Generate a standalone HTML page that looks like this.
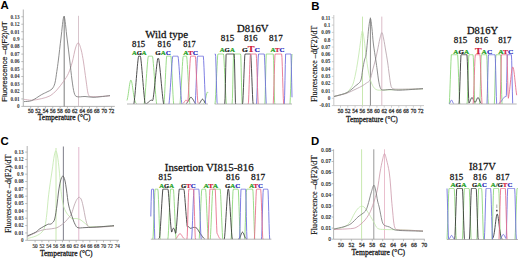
<!DOCTYPE html>
<html><head><meta charset="utf-8"><style>
html,body{margin:0;padding:0;background:#fff;width:520px;height:258px;overflow:hidden}
svg{display:block}
</style></head><body>
<svg width="520" height="258" viewBox="0 0 520 258">
<rect width="520" height="258" fill="#fff"/>
<g>
<text x="0.60" y="8.90" font-family='"Liberation Sans", sans-serif' font-size="11.40" font-weight="bold" fill="#000" text-anchor="start" >A</text>
<text x="311.20" y="9.60" font-family='"Liberation Sans", sans-serif' font-size="11.40" font-weight="bold" fill="#000" text-anchor="start" >B</text>
<text x="0.60" y="145.00" font-family='"Liberation Sans", sans-serif' font-size="11.40" font-weight="bold" fill="#000" text-anchor="start" >C</text>
<text x="311.00" y="145.00" font-family='"Liberation Sans", sans-serif' font-size="11.40" font-weight="bold" fill="#000" text-anchor="start" >D</text>
<line x1="23.30" y1="9.50" x2="23.30" y2="106.40" stroke="#a0a0a0" stroke-width="0.8"/>
<line x1="23.30" y1="106.40" x2="114.80" y2="106.40" stroke="#a0a0a0" stroke-width="0.8"/>
<line x1="21.30" y1="106.40" x2="23.30" y2="106.40" stroke="#a0a0a0" stroke-width="0.7"/>
<line x1="21.30" y1="98.93" x2="23.30" y2="98.93" stroke="#a0a0a0" stroke-width="0.7"/>
<line x1="21.30" y1="91.46" x2="23.30" y2="91.46" stroke="#a0a0a0" stroke-width="0.7"/>
<line x1="21.30" y1="83.99" x2="23.30" y2="83.99" stroke="#a0a0a0" stroke-width="0.7"/>
<line x1="21.30" y1="76.52" x2="23.30" y2="76.52" stroke="#a0a0a0" stroke-width="0.7"/>
<line x1="21.30" y1="69.05" x2="23.30" y2="69.05" stroke="#a0a0a0" stroke-width="0.7"/>
<line x1="21.30" y1="61.58" x2="23.30" y2="61.58" stroke="#a0a0a0" stroke-width="0.7"/>
<line x1="21.30" y1="54.11" x2="23.30" y2="54.11" stroke="#a0a0a0" stroke-width="0.7"/>
<line x1="21.30" y1="46.64" x2="23.30" y2="46.64" stroke="#a0a0a0" stroke-width="0.7"/>
<line x1="21.30" y1="39.17" x2="23.30" y2="39.17" stroke="#a0a0a0" stroke-width="0.7"/>
<line x1="21.30" y1="31.70" x2="23.30" y2="31.70" stroke="#a0a0a0" stroke-width="0.7"/>
<line x1="21.30" y1="24.23" x2="23.30" y2="24.23" stroke="#a0a0a0" stroke-width="0.7"/>
<line x1="21.30" y1="16.76" x2="23.30" y2="16.76" stroke="#a0a0a0" stroke-width="0.7"/>
<line x1="30.70" y1="106.40" x2="30.70" y2="108.40" stroke="#a0a0a0" stroke-width="0.7"/>
<line x1="38.05" y1="106.40" x2="38.05" y2="108.40" stroke="#a0a0a0" stroke-width="0.7"/>
<line x1="45.40" y1="106.40" x2="45.40" y2="108.40" stroke="#a0a0a0" stroke-width="0.7"/>
<line x1="52.75" y1="106.40" x2="52.75" y2="108.40" stroke="#a0a0a0" stroke-width="0.7"/>
<line x1="60.10" y1="106.40" x2="60.10" y2="108.40" stroke="#a0a0a0" stroke-width="0.7"/>
<line x1="67.45" y1="106.40" x2="67.45" y2="108.40" stroke="#a0a0a0" stroke-width="0.7"/>
<line x1="74.80" y1="106.40" x2="74.80" y2="108.40" stroke="#a0a0a0" stroke-width="0.7"/>
<line x1="82.15" y1="106.40" x2="82.15" y2="108.40" stroke="#a0a0a0" stroke-width="0.7"/>
<line x1="89.50" y1="106.40" x2="89.50" y2="108.40" stroke="#a0a0a0" stroke-width="0.7"/>
<line x1="96.85" y1="106.40" x2="96.85" y2="108.40" stroke="#a0a0a0" stroke-width="0.7"/>
<line x1="104.20" y1="106.40" x2="104.20" y2="108.40" stroke="#a0a0a0" stroke-width="0.7"/>
<line x1="111.55" y1="106.40" x2="111.55" y2="108.40" stroke="#a0a0a0" stroke-width="0.7"/>
<text x="19.60" y="108.20" font-family='"Liberation Serif", serif' font-size="5.20" font-weight="bold" fill="#333" text-anchor="end" >0</text>
<text x="19.60" y="100.73" font-family='"Liberation Serif", serif' font-size="5.20" font-weight="bold" fill="#333" text-anchor="end" >0.01</text>
<text x="19.60" y="93.26" font-family='"Liberation Serif", serif' font-size="5.20" font-weight="bold" fill="#333" text-anchor="end" >0.02</text>
<text x="19.60" y="85.79" font-family='"Liberation Serif", serif' font-size="5.20" font-weight="bold" fill="#333" text-anchor="end" >0.03</text>
<text x="19.60" y="78.32" font-family='"Liberation Serif", serif' font-size="5.20" font-weight="bold" fill="#333" text-anchor="end" >0.04</text>
<text x="19.60" y="70.85" font-family='"Liberation Serif", serif' font-size="5.20" font-weight="bold" fill="#333" text-anchor="end" >0.05</text>
<text x="19.60" y="63.38" font-family='"Liberation Serif", serif' font-size="5.20" font-weight="bold" fill="#333" text-anchor="end" >0.06</text>
<text x="19.60" y="55.91" font-family='"Liberation Serif", serif' font-size="5.20" font-weight="bold" fill="#333" text-anchor="end" >0.07</text>
<text x="19.60" y="48.44" font-family='"Liberation Serif", serif' font-size="5.20" font-weight="bold" fill="#333" text-anchor="end" >0.08</text>
<text x="19.60" y="40.97" font-family='"Liberation Serif", serif' font-size="5.20" font-weight="bold" fill="#333" text-anchor="end" >0.9</text>
<text x="19.60" y="33.50" font-family='"Liberation Serif", serif' font-size="5.20" font-weight="bold" fill="#333" text-anchor="end" >0.01</text>
<text x="19.60" y="26.03" font-family='"Liberation Serif", serif' font-size="5.20" font-weight="bold" fill="#333" text-anchor="end" >0.12</text>
<text x="19.60" y="18.56" font-family='"Liberation Serif", serif' font-size="5.20" font-weight="bold" fill="#333" text-anchor="end" >0.13</text>
<text x="30.70" y="113.20" font-family='"Liberation Serif", serif' font-size="5.50" font-weight="normal" fill="#333" text-anchor="middle"  stroke="#333" stroke-width="0.26">50</text>
<text x="38.05" y="113.20" font-family='"Liberation Serif", serif' font-size="5.50" font-weight="normal" fill="#333" text-anchor="middle"  stroke="#333" stroke-width="0.26">52</text>
<text x="45.40" y="113.20" font-family='"Liberation Serif", serif' font-size="5.50" font-weight="normal" fill="#333" text-anchor="middle"  stroke="#333" stroke-width="0.26">54</text>
<text x="52.75" y="113.20" font-family='"Liberation Serif", serif' font-size="5.50" font-weight="normal" fill="#333" text-anchor="middle"  stroke="#333" stroke-width="0.26">56</text>
<text x="60.10" y="113.20" font-family='"Liberation Serif", serif' font-size="5.50" font-weight="normal" fill="#333" text-anchor="middle"  stroke="#333" stroke-width="0.26">58</text>
<text x="67.45" y="113.20" font-family='"Liberation Serif", serif' font-size="5.50" font-weight="normal" fill="#333" text-anchor="middle"  stroke="#333" stroke-width="0.26">60</text>
<text x="74.80" y="113.20" font-family='"Liberation Serif", serif' font-size="5.50" font-weight="normal" fill="#333" text-anchor="middle"  stroke="#333" stroke-width="0.26">62</text>
<text x="82.15" y="113.20" font-family='"Liberation Serif", serif' font-size="5.50" font-weight="normal" fill="#333" text-anchor="middle"  stroke="#333" stroke-width="0.26">64</text>
<text x="89.50" y="113.20" font-family='"Liberation Serif", serif' font-size="5.50" font-weight="normal" fill="#333" text-anchor="middle"  stroke="#333" stroke-width="0.26">66</text>
<text x="96.85" y="113.20" font-family='"Liberation Serif", serif' font-size="5.50" font-weight="normal" fill="#333" text-anchor="middle"  stroke="#333" stroke-width="0.26">68</text>
<text x="104.20" y="113.20" font-family='"Liberation Serif", serif' font-size="5.50" font-weight="normal" fill="#333" text-anchor="middle"  stroke="#333" stroke-width="0.26">70</text>
<text x="111.55" y="113.20" font-family='"Liberation Serif", serif' font-size="5.50" font-weight="normal" fill="#333" text-anchor="middle"  stroke="#333" stroke-width="0.26">72</text>
<text x="37.80" y="120.20" font-family='"Liberation Serif", serif' font-size="8.30" font-weight="normal" fill="#111" text-anchor="start" textLength="52.80" lengthAdjust="spacingAndGlyphs" stroke="#111" stroke-width="0.26">Temperature (&#176;C)</text>
<text x="6.80" y="61.55" font-family='"Liberation Sans", sans-serif' font-size="7.00" font-weight="normal" fill="#111" text-anchor="middle" transform="rotate(-90 6.80 61.55)" textLength="80.30" lengthAdjust="spacingAndGlyphs" stroke="#111" stroke-width="0.16">Fluorescence &#8211;d(F2)/dT</text>
<line x1="64.20" y1="16.00" x2="64.20" y2="106.40" stroke="#888" stroke-width="1.10" stroke-opacity="1.00"/>
<line x1="78.50" y1="15.80" x2="78.50" y2="106.40" stroke="#d8c4cc" stroke-width="1.00" stroke-opacity="1.00"/>
<path d="M24.00,99.30 C25.28,99.45 28.82,100.30 31.70,100.20 C34.58,100.10 38.23,99.43 41.30,98.70 C44.37,97.97 47.52,97.25 50.10,95.80 C52.68,94.35 54.55,92.42 56.80,90.00 C59.05,87.58 61.67,84.05 63.60,81.30 C65.53,78.55 66.95,76.72 68.40,73.50 C69.85,70.28 71.12,66.25 72.30,62.00 C73.48,57.75 74.48,51.18 75.50,48.00 C76.52,44.82 77.45,42.57 78.40,42.90 C79.35,43.23 80.35,46.82 81.20,50.00 C82.05,53.18 82.70,57.00 83.50,62.00 C84.30,67.00 85.18,74.57 86.00,80.00 C86.82,85.43 87.37,91.83 88.40,94.60 C89.43,97.37 90.27,96.28 92.20,96.60 C94.13,96.92 97.03,96.63 100.00,96.50 C102.97,96.37 108.33,95.92 110.00,95.80" fill="none" stroke="#c8a0ac" stroke-width="0.80" stroke-opacity="1.00" stroke-linejoin="round"/>
<path d="M24.00,101.60 C25.28,101.43 28.82,101.73 31.70,100.60 C34.58,99.47 38.73,96.25 41.30,94.80 C43.87,93.35 45.32,92.87 47.10,91.90 C48.88,90.93 50.70,90.45 52.00,89.00 C53.30,87.55 54.10,86.10 54.90,83.20 C55.70,80.30 56.22,75.47 56.80,71.60 C57.38,67.73 57.70,65.60 58.40,60.00 C59.10,54.40 60.07,45.25 61.00,38.00 C61.93,30.75 63.00,16.50 64.00,16.50 C65.00,16.50 66.05,30.75 67.00,38.00 C67.95,45.25 68.87,53.00 69.70,60.00 C70.53,67.00 71.25,74.52 72.00,80.00 C72.75,85.48 73.35,90.12 74.20,92.90 C75.05,95.68 75.30,96.10 77.10,96.70 C78.90,97.30 82.35,96.40 85.00,96.50 C87.65,96.60 90.50,97.25 93.00,97.30 C95.50,97.35 97.17,97.08 100.00,96.80 C102.83,96.52 108.33,95.80 110.00,95.60" fill="none" stroke="#7a7a7a" stroke-width="0.85" stroke-opacity="1.00" stroke-linejoin="round"/>
<line x1="333.80" y1="15.00" x2="333.80" y2="105.60" stroke="#bbb" stroke-width="0.8"/>
<line x1="333.80" y1="105.60" x2="424.00" y2="105.60" stroke="#bbb" stroke-width="0.8"/>
<line x1="331.80" y1="105.60" x2="333.80" y2="105.60" stroke="#bbb" stroke-width="0.7"/>
<line x1="331.80" y1="98.28" x2="333.80" y2="98.28" stroke="#bbb" stroke-width="0.7"/>
<line x1="331.80" y1="90.96" x2="333.80" y2="90.96" stroke="#bbb" stroke-width="0.7"/>
<line x1="331.80" y1="83.64" x2="333.80" y2="83.64" stroke="#bbb" stroke-width="0.7"/>
<line x1="331.80" y1="76.32" x2="333.80" y2="76.32" stroke="#bbb" stroke-width="0.7"/>
<line x1="331.80" y1="69.00" x2="333.80" y2="69.00" stroke="#bbb" stroke-width="0.7"/>
<line x1="331.80" y1="61.68" x2="333.80" y2="61.68" stroke="#bbb" stroke-width="0.7"/>
<line x1="331.80" y1="54.36" x2="333.80" y2="54.36" stroke="#bbb" stroke-width="0.7"/>
<line x1="331.80" y1="47.04" x2="333.80" y2="47.04" stroke="#bbb" stroke-width="0.7"/>
<line x1="331.80" y1="39.72" x2="333.80" y2="39.72" stroke="#bbb" stroke-width="0.7"/>
<line x1="331.80" y1="32.40" x2="333.80" y2="32.40" stroke="#bbb" stroke-width="0.7"/>
<line x1="331.80" y1="25.08" x2="333.80" y2="25.08" stroke="#bbb" stroke-width="0.7"/>
<line x1="331.80" y1="17.76" x2="333.80" y2="17.76" stroke="#bbb" stroke-width="0.7"/>
<line x1="340.50" y1="105.60" x2="340.50" y2="107.60" stroke="#bbb" stroke-width="0.7"/>
<line x1="347.79" y1="105.60" x2="347.79" y2="107.60" stroke="#bbb" stroke-width="0.7"/>
<line x1="355.08" y1="105.60" x2="355.08" y2="107.60" stroke="#bbb" stroke-width="0.7"/>
<line x1="362.37" y1="105.60" x2="362.37" y2="107.60" stroke="#bbb" stroke-width="0.7"/>
<line x1="369.66" y1="105.60" x2="369.66" y2="107.60" stroke="#bbb" stroke-width="0.7"/>
<line x1="376.95" y1="105.60" x2="376.95" y2="107.60" stroke="#bbb" stroke-width="0.7"/>
<line x1="384.24" y1="105.60" x2="384.24" y2="107.60" stroke="#bbb" stroke-width="0.7"/>
<line x1="391.53" y1="105.60" x2="391.53" y2="107.60" stroke="#bbb" stroke-width="0.7"/>
<line x1="398.82" y1="105.60" x2="398.82" y2="107.60" stroke="#bbb" stroke-width="0.7"/>
<line x1="406.11" y1="105.60" x2="406.11" y2="107.60" stroke="#bbb" stroke-width="0.7"/>
<line x1="413.40" y1="105.60" x2="413.40" y2="107.60" stroke="#bbb" stroke-width="0.7"/>
<line x1="420.69" y1="105.60" x2="420.69" y2="107.60" stroke="#bbb" stroke-width="0.7"/>
<text x="330.40" y="107.40" font-family='"Liberation Serif", serif' font-size="5.20" font-weight="bold" fill="#333" text-anchor="end" >-0.01</text>
<text x="330.40" y="100.08" font-family='"Liberation Serif", serif' font-size="5.20" font-weight="bold" fill="#333" text-anchor="end" >0</text>
<text x="330.40" y="92.76" font-family='"Liberation Serif", serif' font-size="5.20" font-weight="bold" fill="#333" text-anchor="end" >0.01</text>
<text x="330.40" y="85.44" font-family='"Liberation Serif", serif' font-size="5.20" font-weight="bold" fill="#333" text-anchor="end" >0.02</text>
<text x="330.40" y="78.12" font-family='"Liberation Serif", serif' font-size="5.20" font-weight="bold" fill="#333" text-anchor="end" >0.03</text>
<text x="330.40" y="70.80" font-family='"Liberation Serif", serif' font-size="5.20" font-weight="bold" fill="#333" text-anchor="end" >0.04</text>
<text x="330.40" y="63.48" font-family='"Liberation Serif", serif' font-size="5.20" font-weight="bold" fill="#333" text-anchor="end" >0.05</text>
<text x="330.40" y="56.16" font-family='"Liberation Serif", serif' font-size="5.20" font-weight="bold" fill="#333" text-anchor="end" >0.06</text>
<text x="330.40" y="48.84" font-family='"Liberation Serif", serif' font-size="5.20" font-weight="bold" fill="#333" text-anchor="end" >0.07</text>
<text x="330.40" y="41.52" font-family='"Liberation Serif", serif' font-size="5.20" font-weight="bold" fill="#333" text-anchor="end" >0.8</text>
<text x="330.40" y="34.20" font-family='"Liberation Serif", serif' font-size="5.20" font-weight="bold" fill="#333" text-anchor="end" >0.09</text>
<text x="330.40" y="26.88" font-family='"Liberation Serif", serif' font-size="5.20" font-weight="bold" fill="#333" text-anchor="end" >0.1</text>
<text x="330.40" y="19.56" font-family='"Liberation Serif", serif' font-size="5.20" font-weight="bold" fill="#333" text-anchor="end" >0.11</text>
<text x="340.50" y="112.90" font-family='"Liberation Serif", serif' font-size="5.50" font-weight="normal" fill="#333" text-anchor="middle"  stroke="#333" stroke-width="0.26">50</text>
<text x="347.79" y="112.90" font-family='"Liberation Serif", serif' font-size="5.50" font-weight="normal" fill="#333" text-anchor="middle"  stroke="#333" stroke-width="0.26">52</text>
<text x="355.08" y="112.90" font-family='"Liberation Serif", serif' font-size="5.50" font-weight="normal" fill="#333" text-anchor="middle"  stroke="#333" stroke-width="0.26">54</text>
<text x="362.37" y="112.90" font-family='"Liberation Serif", serif' font-size="5.50" font-weight="normal" fill="#333" text-anchor="middle"  stroke="#333" stroke-width="0.26">56</text>
<text x="369.66" y="112.90" font-family='"Liberation Serif", serif' font-size="5.50" font-weight="normal" fill="#333" text-anchor="middle"  stroke="#333" stroke-width="0.26">58</text>
<text x="376.95" y="112.90" font-family='"Liberation Serif", serif' font-size="5.50" font-weight="normal" fill="#333" text-anchor="middle"  stroke="#333" stroke-width="0.26">60</text>
<text x="384.24" y="112.90" font-family='"Liberation Serif", serif' font-size="5.50" font-weight="normal" fill="#333" text-anchor="middle"  stroke="#333" stroke-width="0.26">62</text>
<text x="391.53" y="112.90" font-family='"Liberation Serif", serif' font-size="5.50" font-weight="normal" fill="#333" text-anchor="middle"  stroke="#333" stroke-width="0.26">64</text>
<text x="398.82" y="112.90" font-family='"Liberation Serif", serif' font-size="5.50" font-weight="normal" fill="#333" text-anchor="middle"  stroke="#333" stroke-width="0.26">66</text>
<text x="406.11" y="112.90" font-family='"Liberation Serif", serif' font-size="5.50" font-weight="normal" fill="#333" text-anchor="middle"  stroke="#333" stroke-width="0.26">68</text>
<text x="413.40" y="112.90" font-family='"Liberation Serif", serif' font-size="5.50" font-weight="normal" fill="#333" text-anchor="middle"  stroke="#333" stroke-width="0.26">70</text>
<text x="420.69" y="112.90" font-family='"Liberation Serif", serif' font-size="5.50" font-weight="normal" fill="#333" text-anchor="middle"  stroke="#333" stroke-width="0.26">72</text>
<text x="346.10" y="122.20" font-family='"Liberation Serif", serif' font-size="8.50" font-weight="normal" fill="#111" text-anchor="start" textLength="51.70" lengthAdjust="spacingAndGlyphs" stroke="#111" stroke-width="0.26">Temperature (&#176;C)</text>
<text x="317.50" y="63.90" font-family='"Liberation Serif", serif' font-size="8.00" font-weight="normal" fill="#111" text-anchor="middle" transform="rotate(-90 317.50 63.90)" textLength="76.40" lengthAdjust="spacingAndGlyphs" stroke="#111" stroke-width="0.16">Fluorescence &#8211;d(F2)/dT</text>
<line x1="362.50" y1="16.60" x2="362.50" y2="105.60" stroke="#c8e8b0" stroke-width="1.00" stroke-opacity="1.00"/>
<line x1="370.40" y1="17.60" x2="370.40" y2="105.60" stroke="#8a8a8a" stroke-width="1.00" stroke-opacity="1.00"/>
<line x1="381.80" y1="16.60" x2="381.80" y2="105.60" stroke="#dcbcc8" stroke-width="1.00" stroke-opacity="1.00"/>
<path d="M334.00,96.50 C336.00,95.92 343.33,94.25 346.00,93.00 C348.67,91.75 348.83,90.50 350.00,89.00 C351.17,87.50 352.08,86.50 353.00,84.00 C353.92,81.50 354.75,77.50 355.50,74.00 C356.25,70.50 356.92,66.50 357.50,63.00 C358.08,59.50 358.50,56.50 359.00,53.00 C359.50,49.50 359.95,45.67 360.50,42.00 C361.05,38.33 361.68,31.33 362.30,31.00 C362.92,30.67 363.58,36.00 364.20,40.00 C364.82,44.00 365.28,49.67 366.00,55.00 C366.72,60.33 367.58,67.33 368.50,72.00 C369.42,76.67 370.25,80.08 371.50,83.00 C372.75,85.92 373.75,88.33 376.00,89.50 C378.25,90.67 381.00,90.00 385.00,90.00 C389.00,90.00 393.67,89.67 400.00,89.50 C406.33,89.33 419.17,89.08 423.00,89.00" fill="none" stroke="#c4e8b0" stroke-width="0.85" stroke-opacity="1.00" stroke-linejoin="round"/>
<path d="M334.00,96.50 C336.00,96.00 342.33,94.75 346.00,93.50 C349.67,92.25 353.33,90.25 356.00,89.00 C358.67,87.75 360.25,87.00 362.00,86.00 C363.75,85.00 365.17,84.00 366.50,83.00 C367.83,82.00 368.97,82.17 370.00,80.00 C371.03,77.83 371.80,73.33 372.70,70.00 C373.60,66.67 374.58,63.33 375.40,60.00 C376.22,56.67 376.87,53.50 377.60,50.00 C378.33,46.50 379.08,41.90 379.80,39.00 C380.52,36.10 381.25,32.60 381.90,32.60 C382.55,32.60 383.08,36.10 383.70,39.00 C384.32,41.90 384.95,46.17 385.60,50.00 C386.25,53.83 386.98,57.83 387.60,62.00 C388.22,66.17 388.77,71.17 389.30,75.00 C389.83,78.83 390.22,82.75 390.80,85.00 C391.38,87.25 391.27,87.80 392.80,88.50 C394.33,89.20 394.97,89.15 400.00,89.20 C405.03,89.25 419.17,88.87 423.00,88.80" fill="none" stroke="#b8a4ac" stroke-width="0.85" stroke-opacity="1.00" stroke-linejoin="round"/>
<path d="M334.00,96.50 C336.00,95.92 343.00,94.25 346.00,93.00 C349.00,91.75 350.45,90.17 352.00,89.00 C353.55,87.83 354.22,86.92 355.30,86.00 C356.38,85.08 357.55,84.50 358.50,83.50 C359.45,82.50 360.32,82.25 361.00,80.00 C361.68,77.75 362.02,73.33 362.60,70.00 C363.18,66.67 363.93,62.50 364.50,60.00 C365.07,57.50 365.52,58.00 366.00,55.00 C366.48,52.00 366.95,46.50 367.40,42.00 C367.85,37.50 368.20,31.92 368.70,28.00 C369.20,24.08 369.87,18.50 370.40,18.50 C370.93,18.50 371.40,23.75 371.90,28.00 C372.40,32.25 372.75,38.67 373.40,44.00 C374.05,49.33 375.17,55.67 375.80,60.00 C376.43,64.33 376.75,66.67 377.20,70.00 C377.65,73.33 378.00,77.08 378.50,80.00 C379.00,82.92 379.53,85.83 380.20,87.50 C380.87,89.17 380.87,89.67 382.50,90.00 C384.13,90.33 387.08,89.47 390.00,89.50 C392.92,89.53 394.50,90.35 400.00,90.20 C405.50,90.05 419.17,88.87 423.00,88.60" fill="none" stroke="#7a7a7a" stroke-width="0.85" stroke-opacity="1.00" stroke-linejoin="round"/>
<line x1="27.20" y1="146.00" x2="27.20" y2="240.30" stroke="#a0a0a0" stroke-width="0.8"/>
<line x1="27.20" y1="240.30" x2="119.00" y2="240.30" stroke="#a0a0a0" stroke-width="0.8"/>
<line x1="25.20" y1="240.30" x2="27.20" y2="240.30" stroke="#a0a0a0" stroke-width="0.7"/>
<line x1="25.20" y1="232.95" x2="27.20" y2="232.95" stroke="#a0a0a0" stroke-width="0.7"/>
<line x1="25.20" y1="225.60" x2="27.20" y2="225.60" stroke="#a0a0a0" stroke-width="0.7"/>
<line x1="25.20" y1="218.25" x2="27.20" y2="218.25" stroke="#a0a0a0" stroke-width="0.7"/>
<line x1="25.20" y1="210.90" x2="27.20" y2="210.90" stroke="#a0a0a0" stroke-width="0.7"/>
<line x1="25.20" y1="203.55" x2="27.20" y2="203.55" stroke="#a0a0a0" stroke-width="0.7"/>
<line x1="25.20" y1="196.20" x2="27.20" y2="196.20" stroke="#a0a0a0" stroke-width="0.7"/>
<line x1="25.20" y1="188.85" x2="27.20" y2="188.85" stroke="#a0a0a0" stroke-width="0.7"/>
<line x1="25.20" y1="181.50" x2="27.20" y2="181.50" stroke="#a0a0a0" stroke-width="0.7"/>
<line x1="25.20" y1="174.15" x2="27.20" y2="174.15" stroke="#a0a0a0" stroke-width="0.7"/>
<line x1="25.20" y1="166.80" x2="27.20" y2="166.80" stroke="#a0a0a0" stroke-width="0.7"/>
<line x1="25.20" y1="159.45" x2="27.20" y2="159.45" stroke="#a0a0a0" stroke-width="0.7"/>
<line x1="25.20" y1="152.10" x2="27.20" y2="152.10" stroke="#a0a0a0" stroke-width="0.7"/>
<line x1="35.10" y1="240.30" x2="35.10" y2="242.30" stroke="#a0a0a0" stroke-width="0.7"/>
<line x1="41.94" y1="240.30" x2="41.94" y2="242.30" stroke="#a0a0a0" stroke-width="0.7"/>
<line x1="48.78" y1="240.30" x2="48.78" y2="242.30" stroke="#a0a0a0" stroke-width="0.7"/>
<line x1="55.62" y1="240.30" x2="55.62" y2="242.30" stroke="#a0a0a0" stroke-width="0.7"/>
<line x1="62.46" y1="240.30" x2="62.46" y2="242.30" stroke="#a0a0a0" stroke-width="0.7"/>
<line x1="69.30" y1="240.30" x2="69.30" y2="242.30" stroke="#a0a0a0" stroke-width="0.7"/>
<line x1="76.14" y1="240.30" x2="76.14" y2="242.30" stroke="#a0a0a0" stroke-width="0.7"/>
<line x1="82.98" y1="240.30" x2="82.98" y2="242.30" stroke="#a0a0a0" stroke-width="0.7"/>
<line x1="89.82" y1="240.30" x2="89.82" y2="242.30" stroke="#a0a0a0" stroke-width="0.7"/>
<line x1="96.66" y1="240.30" x2="96.66" y2="242.30" stroke="#a0a0a0" stroke-width="0.7"/>
<line x1="103.50" y1="240.30" x2="103.50" y2="242.30" stroke="#a0a0a0" stroke-width="0.7"/>
<line x1="110.34" y1="240.30" x2="110.34" y2="242.30" stroke="#a0a0a0" stroke-width="0.7"/>
<line x1="117.18" y1="240.30" x2="117.18" y2="242.30" stroke="#a0a0a0" stroke-width="0.7"/>
<text x="23.60" y="242.10" font-family='"Liberation Serif", serif' font-size="5.20" font-weight="bold" fill="#333" text-anchor="end" >0</text>
<text x="23.60" y="234.75" font-family='"Liberation Serif", serif' font-size="5.20" font-weight="bold" fill="#333" text-anchor="end" >0.01</text>
<text x="23.60" y="227.40" font-family='"Liberation Serif", serif' font-size="5.20" font-weight="bold" fill="#333" text-anchor="end" >0.02</text>
<text x="23.60" y="220.05" font-family='"Liberation Serif", serif' font-size="5.20" font-weight="bold" fill="#333" text-anchor="end" >0.03</text>
<text x="23.60" y="212.70" font-family='"Liberation Serif", serif' font-size="5.20" font-weight="bold" fill="#333" text-anchor="end" >0.04</text>
<text x="23.60" y="205.35" font-family='"Liberation Serif", serif' font-size="5.20" font-weight="bold" fill="#333" text-anchor="end" >0.05</text>
<text x="23.60" y="198.00" font-family='"Liberation Serif", serif' font-size="5.20" font-weight="bold" fill="#333" text-anchor="end" >0.06</text>
<text x="23.60" y="190.65" font-family='"Liberation Serif", serif' font-size="5.20" font-weight="bold" fill="#333" text-anchor="end" >0.07</text>
<text x="23.60" y="183.30" font-family='"Liberation Serif", serif' font-size="5.20" font-weight="bold" fill="#333" text-anchor="end" >0.08</text>
<text x="23.60" y="175.95" font-family='"Liberation Serif", serif' font-size="5.20" font-weight="bold" fill="#333" text-anchor="end" >0.9</text>
<text x="23.60" y="168.60" font-family='"Liberation Serif", serif' font-size="5.20" font-weight="bold" fill="#333" text-anchor="end" >0.01</text>
<text x="23.60" y="161.25" font-family='"Liberation Serif", serif' font-size="5.20" font-weight="bold" fill="#333" text-anchor="end" >0.12</text>
<text x="23.60" y="153.90" font-family='"Liberation Serif", serif' font-size="5.20" font-weight="bold" fill="#333" text-anchor="end" >0.13</text>
<text x="35.10" y="247.80" font-family='"Liberation Serif", serif' font-size="5.10" font-weight="normal" fill="#222" text-anchor="middle"  stroke="#222" stroke-width="0.16">50</text>
<text x="41.94" y="247.80" font-family='"Liberation Serif", serif' font-size="5.10" font-weight="normal" fill="#222" text-anchor="middle"  stroke="#222" stroke-width="0.16">52</text>
<text x="48.78" y="247.80" font-family='"Liberation Serif", serif' font-size="5.10" font-weight="normal" fill="#222" text-anchor="middle"  stroke="#222" stroke-width="0.16">54</text>
<text x="55.62" y="247.80" font-family='"Liberation Serif", serif' font-size="5.10" font-weight="normal" fill="#222" text-anchor="middle"  stroke="#222" stroke-width="0.16">56</text>
<text x="62.46" y="247.80" font-family='"Liberation Serif", serif' font-size="5.10" font-weight="normal" fill="#222" text-anchor="middle"  stroke="#222" stroke-width="0.16">58</text>
<text x="69.30" y="247.80" font-family='"Liberation Serif", serif' font-size="5.10" font-weight="normal" fill="#222" text-anchor="middle"  stroke="#222" stroke-width="0.16">60</text>
<text x="76.14" y="247.80" font-family='"Liberation Serif", serif' font-size="5.10" font-weight="normal" fill="#222" text-anchor="middle"  stroke="#222" stroke-width="0.16">62</text>
<text x="82.98" y="247.80" font-family='"Liberation Serif", serif' font-size="5.10" font-weight="normal" fill="#222" text-anchor="middle"  stroke="#222" stroke-width="0.16">64</text>
<text x="89.82" y="247.80" font-family='"Liberation Serif", serif' font-size="5.10" font-weight="normal" fill="#222" text-anchor="middle"  stroke="#222" stroke-width="0.16">66</text>
<text x="96.66" y="247.80" font-family='"Liberation Serif", serif' font-size="5.10" font-weight="normal" fill="#222" text-anchor="middle"  stroke="#222" stroke-width="0.16">68</text>
<text x="103.50" y="247.80" font-family='"Liberation Serif", serif' font-size="5.10" font-weight="normal" fill="#222" text-anchor="middle"  stroke="#222" stroke-width="0.16">70</text>
<text x="110.34" y="247.80" font-family='"Liberation Serif", serif' font-size="5.10" font-weight="normal" fill="#222" text-anchor="middle"  stroke="#222" stroke-width="0.16">72</text>
<text x="117.18" y="247.80" font-family='"Liberation Serif", serif' font-size="5.10" font-weight="normal" fill="#222" text-anchor="middle"  stroke="#222" stroke-width="0.16">74</text>
<text x="40.00" y="255.80" font-family='"Liberation Serif", serif' font-size="8.20" font-weight="normal" fill="#111" text-anchor="start" textLength="52.50" lengthAdjust="spacingAndGlyphs" stroke="#111" stroke-width="0.26">Temperature (&#176;C)</text>
<text x="10.70" y="193.75" font-family='"Liberation Serif", serif' font-size="8.00" font-weight="normal" fill="#111" text-anchor="middle" transform="rotate(-90 10.70 193.75)" textLength="78.50" lengthAdjust="spacingAndGlyphs" stroke="#111" stroke-width="0.16">Fluorescence &#8211;d(F2)/dT</text>
<line x1="56.00" y1="148.00" x2="56.00" y2="240.30" stroke="#c8e8b0" stroke-width="1.00" stroke-opacity="1.00"/>
<line x1="63.40" y1="146.50" x2="63.40" y2="240.30" stroke="#8a8a94" stroke-width="1.10" stroke-opacity="1.00"/>
<line x1="78.80" y1="147.00" x2="78.80" y2="240.30" stroke="#dfb0c8" stroke-width="0.90" stroke-opacity="1.00"/>
<path d="M27.50,238.50 C28.92,238.08 33.58,237.08 36.00,236.00 C38.42,234.92 40.50,233.67 42.00,232.00 C43.50,230.33 44.20,229.00 45.00,226.00 C45.80,223.00 46.25,218.67 46.80,214.00 C47.35,209.33 47.80,202.67 48.30,198.00 C48.80,193.33 49.15,190.67 49.80,186.00 C50.45,181.33 51.47,175.00 52.20,170.00 C52.93,165.00 53.60,159.18 54.20,156.00 C54.80,152.82 55.25,150.90 55.80,150.90 C56.35,150.90 56.93,152.82 57.50,156.00 C58.07,159.18 58.70,165.17 59.20,170.00 C59.70,174.83 60.07,180.50 60.50,185.00 C60.93,189.50 61.30,193.50 61.80,197.00 C62.30,200.50 62.80,203.50 63.50,206.00 C64.20,208.50 65.08,210.33 66.00,212.00 C66.92,213.67 68.00,214.92 69.00,216.00 C70.00,217.08 70.83,218.08 72.00,218.50 C73.17,218.92 74.67,218.33 76.00,218.50 C77.33,218.67 78.67,218.83 80.00,219.50 C81.33,220.17 82.67,221.50 84.00,222.50 C85.33,223.50 86.67,224.78 88.00,225.50 C89.33,226.22 87.67,226.72 92.00,226.80 C96.33,226.88 110.33,226.13 114.00,226.00" fill="none" stroke="#c4e8b0" stroke-width="0.85" stroke-opacity="1.00" stroke-linejoin="round"/>
<path d="M27.50,236.60 C29.70,235.58 36.75,231.80 40.70,230.50 C44.65,229.20 48.48,229.27 51.20,228.80 C53.92,228.33 55.27,228.37 57.00,227.70 C58.73,227.03 60.25,225.77 61.60,224.80 C62.95,223.83 63.83,223.17 65.10,221.90 C66.37,220.63 68.13,218.57 69.20,217.20 C70.27,215.83 70.63,215.73 71.50,213.70 C72.37,211.67 73.52,207.37 74.40,205.00 C75.28,202.63 76.00,200.78 76.80,199.50 C77.60,198.22 78.42,197.22 79.20,197.30 C79.98,197.38 80.78,198.22 81.50,200.00 C82.22,201.78 82.88,205.17 83.50,208.00 C84.12,210.83 84.65,214.42 85.20,217.00 C85.75,219.58 86.25,221.87 86.80,223.50 C87.35,225.13 87.13,226.17 88.50,226.80 C89.87,227.43 90.75,227.40 95.00,227.30 C99.25,227.20 110.83,226.38 114.00,226.20" fill="none" stroke="#b8a0a8" stroke-width="0.80" stroke-opacity="1.00" stroke-linejoin="round"/>
<path d="M27.50,235.80 C28.83,235.22 33.45,233.47 35.50,232.30 C37.55,231.13 37.77,230.12 39.80,228.80 C41.83,227.48 46.00,225.17 47.70,224.40 C49.40,223.63 49.28,224.40 50.00,224.20 C50.72,224.00 51.22,224.07 52.00,223.20 C52.78,222.33 53.87,222.03 54.70,219.00 C55.53,215.97 56.37,209.50 57.00,205.00 C57.63,200.50 57.92,196.00 58.50,192.00 C59.08,188.00 59.78,183.67 60.50,181.00 C61.22,178.33 62.08,176.17 62.80,176.00 C63.52,175.83 64.18,177.67 64.80,180.00 C65.42,182.33 65.87,185.83 66.50,190.00 C67.13,194.17 67.67,200.57 68.60,205.00 C69.53,209.43 71.03,213.40 72.10,216.60 C73.17,219.80 74.03,222.35 75.00,224.20 C75.97,226.05 76.23,227.13 77.90,227.70 C79.57,228.27 81.32,227.75 85.00,227.60 C88.68,227.45 95.17,227.13 100.00,226.80 C104.83,226.47 111.67,225.80 114.00,225.60" fill="none" stroke="#5a5a5a" stroke-width="0.85" stroke-opacity="1.00" stroke-linejoin="round"/>
<line x1="333.60" y1="149.30" x2="333.60" y2="239.20" stroke="#a0a0a0" stroke-width="0.8"/>
<line x1="333.60" y1="239.20" x2="424.70" y2="239.20" stroke="#a0a0a0" stroke-width="0.8"/>
<line x1="331.60" y1="239.20" x2="333.60" y2="239.20" stroke="#a0a0a0" stroke-width="0.7"/>
<line x1="331.60" y1="228.10" x2="333.60" y2="228.10" stroke="#a0a0a0" stroke-width="0.7"/>
<line x1="331.60" y1="217.00" x2="333.60" y2="217.00" stroke="#a0a0a0" stroke-width="0.7"/>
<line x1="331.60" y1="205.90" x2="333.60" y2="205.90" stroke="#a0a0a0" stroke-width="0.7"/>
<line x1="331.60" y1="194.80" x2="333.60" y2="194.80" stroke="#a0a0a0" stroke-width="0.7"/>
<line x1="331.60" y1="183.70" x2="333.60" y2="183.70" stroke="#a0a0a0" stroke-width="0.7"/>
<line x1="331.60" y1="172.60" x2="333.60" y2="172.60" stroke="#a0a0a0" stroke-width="0.7"/>
<line x1="331.60" y1="161.50" x2="333.60" y2="161.50" stroke="#a0a0a0" stroke-width="0.7"/>
<line x1="331.60" y1="150.40" x2="333.60" y2="150.40" stroke="#a0a0a0" stroke-width="0.7"/>
<line x1="341.00" y1="239.20" x2="341.00" y2="241.20" stroke="#a0a0a0" stroke-width="0.7"/>
<line x1="351.42" y1="239.20" x2="351.42" y2="241.20" stroke="#a0a0a0" stroke-width="0.7"/>
<line x1="361.84" y1="239.20" x2="361.84" y2="241.20" stroke="#a0a0a0" stroke-width="0.7"/>
<line x1="372.26" y1="239.20" x2="372.26" y2="241.20" stroke="#a0a0a0" stroke-width="0.7"/>
<line x1="382.68" y1="239.20" x2="382.68" y2="241.20" stroke="#a0a0a0" stroke-width="0.7"/>
<line x1="393.10" y1="239.20" x2="393.10" y2="241.20" stroke="#a0a0a0" stroke-width="0.7"/>
<line x1="403.52" y1="239.20" x2="403.52" y2="241.20" stroke="#a0a0a0" stroke-width="0.7"/>
<line x1="413.94" y1="239.20" x2="413.94" y2="241.20" stroke="#a0a0a0" stroke-width="0.7"/>
<line x1="424.36" y1="239.20" x2="424.36" y2="241.20" stroke="#a0a0a0" stroke-width="0.7"/>
<text x="331.20" y="241.00" font-family='"Liberation Sans", sans-serif' font-size="5.20" font-weight="bold" fill="#333" text-anchor="end" >0</text>
<text x="331.20" y="229.90" font-family='"Liberation Sans", sans-serif' font-size="5.20" font-weight="bold" fill="#333" text-anchor="end" >0.01</text>
<text x="331.20" y="218.80" font-family='"Liberation Sans", sans-serif' font-size="5.20" font-weight="bold" fill="#333" text-anchor="end" >0.02</text>
<text x="331.20" y="207.70" font-family='"Liberation Sans", sans-serif' font-size="5.20" font-weight="bold" fill="#333" text-anchor="end" >0.03</text>
<text x="331.20" y="196.60" font-family='"Liberation Sans", sans-serif' font-size="5.20" font-weight="bold" fill="#333" text-anchor="end" >0.04</text>
<text x="331.20" y="185.50" font-family='"Liberation Sans", sans-serif' font-size="5.20" font-weight="bold" fill="#333" text-anchor="end" >0.05</text>
<text x="331.20" y="174.40" font-family='"Liberation Sans", sans-serif' font-size="5.20" font-weight="bold" fill="#333" text-anchor="end" >0.06</text>
<text x="331.20" y="163.30" font-family='"Liberation Sans", sans-serif' font-size="5.20" font-weight="bold" fill="#333" text-anchor="end" >0.07</text>
<text x="331.20" y="152.20" font-family='"Liberation Sans", sans-serif' font-size="5.20" font-weight="bold" fill="#333" text-anchor="end" >0.08</text>
<text x="341.00" y="246.60" font-family='"Liberation Serif", serif' font-size="5.80" font-weight="normal" fill="#333" text-anchor="middle"  stroke="#333" stroke-width="0.26">50</text>
<text x="351.42" y="246.60" font-family='"Liberation Serif", serif' font-size="5.80" font-weight="normal" fill="#333" text-anchor="middle"  stroke="#333" stroke-width="0.26">52</text>
<text x="361.84" y="246.60" font-family='"Liberation Serif", serif' font-size="5.80" font-weight="normal" fill="#333" text-anchor="middle"  stroke="#333" stroke-width="0.26">54</text>
<text x="372.26" y="246.60" font-family='"Liberation Serif", serif' font-size="5.80" font-weight="normal" fill="#333" text-anchor="middle"  stroke="#333" stroke-width="0.26">58</text>
<text x="382.68" y="246.60" font-family='"Liberation Serif", serif' font-size="5.80" font-weight="normal" fill="#333" text-anchor="middle"  stroke="#333" stroke-width="0.26">62</text>
<text x="393.10" y="246.60" font-family='"Liberation Serif", serif' font-size="5.80" font-weight="normal" fill="#333" text-anchor="middle"  stroke="#333" stroke-width="0.26">64</text>
<text x="403.52" y="246.60" font-family='"Liberation Serif", serif' font-size="5.80" font-weight="normal" fill="#333" text-anchor="middle"  stroke="#333" stroke-width="0.26">64</text>
<text x="413.94" y="246.60" font-family='"Liberation Serif", serif' font-size="5.80" font-weight="normal" fill="#333" text-anchor="middle"  stroke="#333" stroke-width="0.26">68</text>
<text x="424.36" y="246.60" font-family='"Liberation Serif", serif' font-size="5.80" font-weight="normal" fill="#333" text-anchor="middle"  stroke="#333" stroke-width="0.26">70</text>
<text x="351.50" y="254.50" font-family='"Liberation Serif", serif' font-size="8.20" font-weight="normal" fill="#111" text-anchor="start" textLength="53.50" lengthAdjust="spacingAndGlyphs" stroke="#111" stroke-width="0.26">Temperature (&#176;C)</text>
<text x="317.20" y="195.15" font-family='"Liberation Serif", serif' font-size="8.00" font-weight="normal" fill="#111" text-anchor="middle" transform="rotate(-90 317.20 195.15)" textLength="79.30" lengthAdjust="spacingAndGlyphs" stroke="#111" stroke-width="0.16">Fluorescence &#8211;d(F2)/dT</text>
<line x1="361.60" y1="149.30" x2="361.60" y2="239.20" stroke="#c8e8b0" stroke-width="1.00" stroke-opacity="1.00"/>
<line x1="373.80" y1="149.30" x2="373.80" y2="239.20" stroke="#999" stroke-width="1.00" stroke-opacity="1.00"/>
<line x1="384.50" y1="149.30" x2="384.50" y2="239.20" stroke="#e8b8c8" stroke-width="0.90" stroke-opacity="1.00"/>
<path d="M334.00,229.00 C335.67,228.67 341.33,228.17 344.00,227.00 C346.67,225.83 348.45,223.90 350.00,222.00 C351.55,220.10 352.05,217.77 353.30,215.60 C354.55,213.43 356.15,210.55 357.50,209.00 C358.85,207.45 360.15,206.47 361.40,206.30 C362.65,206.13 363.45,206.27 365.00,208.00 C366.55,209.73 369.20,214.28 370.70,216.70 C372.20,219.12 372.83,220.55 374.00,222.50 C375.17,224.45 375.87,227.23 377.70,228.40 C379.53,229.57 381.28,229.27 385.00,229.50 C388.72,229.73 393.67,229.55 400.00,229.80 C406.33,230.05 419.17,230.80 423.00,231.00" fill="none" stroke="#c4e8b0" stroke-width="0.85" stroke-opacity="1.00" stroke-linejoin="round"/>
<path d="M334.00,229.50 C335.83,229.42 342.00,229.17 345.00,229.00 C348.00,228.83 350.17,228.75 352.00,228.50 C353.83,228.25 354.50,228.25 356.00,227.50 C357.50,226.75 359.50,225.25 361.00,224.00 C362.50,222.75 363.75,221.50 365.00,220.00 C366.25,218.50 367.50,216.67 368.50,215.00 C369.50,213.33 370.00,212.50 371.00,210.00 C372.00,207.50 373.42,203.50 374.50,200.00 C375.58,196.50 376.57,193.67 377.50,189.00 C378.43,184.33 379.27,176.83 380.10,172.00 C380.93,167.17 381.77,163.05 382.50,160.00 C383.23,156.95 383.82,153.70 384.50,153.70 C385.18,153.70 385.82,156.95 386.60,160.00 C387.38,163.05 388.53,167.67 389.20,172.00 C389.87,176.33 390.20,181.33 390.60,186.00 C391.00,190.67 391.23,195.50 391.60,200.00 C391.97,204.50 392.45,209.33 392.80,213.00 C393.15,216.67 393.33,219.50 393.70,222.00 C394.07,224.50 394.28,226.70 395.00,228.00 C395.72,229.30 395.50,229.42 398.00,229.80 C400.50,230.18 405.83,230.10 410.00,230.30 C414.17,230.50 420.83,230.88 423.00,231.00" fill="none" stroke="#cc98aa" stroke-width="0.80" stroke-opacity="1.00" stroke-linejoin="round"/>
<path d="M334.00,229.00 C335.67,228.62 341.17,227.58 344.00,226.70 C346.83,225.82 348.68,225.32 351.00,223.70 C353.32,222.08 356.07,218.62 357.90,217.00 C359.73,215.38 360.73,215.00 362.00,214.00 C363.27,213.00 364.57,212.33 365.50,211.00 C366.43,209.67 366.93,208.00 367.60,206.00 C368.27,204.00 368.85,201.42 369.50,199.00 C370.15,196.58 370.77,193.80 371.50,191.50 C372.23,189.20 373.18,185.28 373.90,185.20 C374.62,185.12 375.18,188.37 375.80,191.00 C376.42,193.63 377.00,198.17 377.60,201.00 C378.20,203.83 378.70,204.83 379.40,208.00 C380.10,211.17 381.12,217.25 381.80,220.00 C382.48,222.75 382.80,223.50 383.50,224.50 C384.20,225.50 385.00,225.58 386.00,226.00 C387.00,226.42 388.22,226.42 389.50,227.00 C390.78,227.58 391.95,228.92 393.70,229.50 C395.45,230.08 395.12,230.22 400.00,230.50 C404.88,230.78 419.17,231.08 423.00,231.20" fill="none" stroke="#7a7a7a" stroke-width="0.85" stroke-opacity="1.00" stroke-linejoin="round"/>
<text x="145.20" y="37.60" font-family='"Liberation Serif", serif' font-size="10.40" font-weight="normal" fill="#111" text-anchor="start" textLength="42.80" lengthAdjust="spacingAndGlyphs" stroke="#111" stroke-width="0.26">Wild type</text>
<text x="132.00" y="47.20" font-family='"Liberation Serif", serif' font-size="8.80" font-weight="normal" fill="#111" text-anchor="start" textLength="13.20" lengthAdjust="spacingAndGlyphs" stroke="#111" stroke-width="0.26">815</text>
<text x="157.60" y="47.20" font-family='"Liberation Serif", serif' font-size="8.80" font-weight="normal" fill="#111" text-anchor="start" textLength="13.20" lengthAdjust="spacingAndGlyphs" stroke="#111" stroke-width="0.26">816</text>
<text x="183.20" y="47.20" font-family='"Liberation Serif", serif' font-size="8.80" font-weight="normal" fill="#111" text-anchor="start" textLength="12.40" lengthAdjust="spacingAndGlyphs" stroke="#111" stroke-width="0.26">817</text>
<text x="132.00" y="54.80" font-family='"Liberation Serif", serif' font-size="6.60" font-weight="bold" stroke-width="0.22" textLength="14.60" lengthAdjust="spacingAndGlyphs"><tspan fill="#22a022" stroke="#22a022">A</tspan><tspan fill="#111" stroke="#111">G</tspan><tspan fill="#22a022" stroke="#22a022">A</tspan></text>
<text x="155.30" y="54.80" font-family='"Liberation Serif", serif' font-size="6.60" font-weight="bold" stroke-width="0.22" textLength="15.50" lengthAdjust="spacingAndGlyphs"><tspan fill="#111" stroke="#111">G</tspan><tspan fill="#22a022" stroke="#22a022">A</tspan><tspan fill="#2020b8" stroke="#2020b8">C</tspan></text>
<text x="183.20" y="54.80" font-family='"Liberation Serif", serif' font-size="6.60" font-weight="bold" stroke-width="0.22" textLength="14.80" lengthAdjust="spacingAndGlyphs"><tspan fill="#22a022" stroke="#22a022">A</tspan><tspan fill="#d01838" stroke="#d01838">T</tspan><tspan fill="#2020b8" stroke="#2020b8">C</tspan></text>
<path d="M127.00,100.43 L127.33,99.13 L127.67,97.53 L128.00,95.65 L128.33,93.51 L128.67,91.19 L129.00,88.78 L129.33,86.41 L129.67,84.24 L130.00,82.40 L130.33,81.04 L130.67,80.26 L131.00,80.13 L131.33,80.65 L131.67,81.79 L132.00,83.45 L132.33,85.51 L132.67,87.82 L133.00,90.23 L133.33,92.60 L133.67,94.82 L134.00,96.81 L134.33,98.52 L134.67,99.94 L135.00,101.08 L135.33,101.95 L135.67,102.60 L136.00,103.07 L136.33,103.40 L136.67,103.63 M144.00,104.00 L144.33,102.91 L144.67,99.75 L145.00,96.05 L145.33,91.93 L145.67,87.51 L146.00,82.90 L146.33,78.23 L146.67,73.60 L147.00,69.13 L147.33,64.95 L147.67,61.16 L148.00,57.87 L148.33,56.20 L148.67,56.20 L149.00,56.20 L149.33,56.20 L149.67,56.20 L150.00,56.20 L150.33,56.20 L150.67,56.20 L151.00,56.20 L151.33,56.20 L151.67,56.20 L152.00,56.20 L152.33,56.20 L152.67,56.73 L153.00,59.78 L153.33,63.38 L153.67,67.42 L154.00,71.79 L154.33,76.37 L154.67,81.04 L155.00,85.68 L155.33,90.19 L155.67,94.44 L156.00,98.32 L156.33,101.72 L156.67,104.00 M164.00,104.00 L164.33,99.26 L164.67,93.30 L165.00,86.53 L165.33,79.38 L165.67,72.27 L166.00,65.63 L166.33,59.88 L166.67,56.20 L167.00,56.20 L167.33,56.20 L167.67,56.20 L168.00,56.20 L168.33,56.20 L168.67,56.20 L169.00,56.20 L169.33,56.20 L169.67,56.20 L170.00,56.20 L170.33,56.20 L170.67,56.20 L171.00,56.20 L171.33,60.94 L171.67,66.90 L172.00,73.67 L172.33,80.82 L172.67,87.93 L173.00,94.57 L173.33,100.32 L173.67,104.00 M180.00,104.00 L180.33,100.12 L180.67,95.33 L181.00,89.88 L181.33,84.01 L181.67,77.99 L182.00,72.05 L182.33,66.45 L182.67,61.43 L183.00,57.25 L183.33,56.20 L183.67,56.20 L184.00,56.20 L184.33,56.20 L184.67,56.20 L185.00,56.20 L185.33,56.20 L185.67,56.20 L186.00,56.20 L186.33,56.20 L186.67,56.20 L187.00,59.65 L187.33,64.36 L187.67,69.75 L188.00,75.59 L188.33,81.61 L188.67,87.57 L189.00,93.21 L189.33,98.30 L189.67,102.57 L190.00,104.00 M203.67,103.54 L204.00,103.21 L204.33,102.71 L204.67,101.99 L205.00,101.02 L205.33,99.79 L205.67,98.34 L206.00,96.75 L206.33,95.17 L206.67,93.76 L207.00,92.70 L207.33,92.12 L207.67,92.12 L208.00,92.70" fill="none" stroke="#8fd87c" stroke-width="0.90" stroke-linejoin="round"/>
<path d="M133.67,104.00 L134.00,103.30 L134.33,100.66 L134.67,97.58 L135.00,94.16 L135.33,90.46 L135.67,86.56 L136.00,82.54 L136.33,78.47 L136.67,74.44 L137.00,70.51 L137.33,66.76 L137.67,63.28 L138.00,60.13 L138.33,57.39 L138.67,56.20 L139.00,56.20 L139.33,56.20 L139.67,56.20 L140.00,56.20 L140.33,56.20 L140.67,57.39 L141.00,60.13 L141.33,63.28 L141.67,66.76 L142.00,70.51 L142.33,74.43 L142.67,78.47 L143.00,82.53 L143.33,86.54 L143.67,90.43 L144.00,94.12 L144.33,97.52 L144.67,100.56 L145.00,103.17 L145.33,103.82 M146.33,103.55 L146.67,103.41 L147.00,103.24 L147.33,103.05 L147.67,102.82 L148.00,102.56 L148.33,102.29 L148.67,101.99 L149.00,101.68 L149.33,101.37 L149.67,101.08 L150.00,100.81 L150.33,100.57 L150.67,100.38 L151.00,100.25 L151.33,100.18 L151.67,100.18 L152.00,100.25 L152.33,100.38 L152.67,100.57 L153.00,99.52 L153.33,97.34 L153.67,94.84 L154.00,92.06 L154.33,89.06 L154.67,85.88 L155.00,82.58 L155.33,79.21 L155.67,75.82 L156.00,72.49 L156.33,69.25 L156.67,66.18 L157.00,63.35 L157.33,60.80 L157.67,58.61 L158.00,58.46 L158.33,58.50 L158.67,58.53 L159.00,60.53 L159.33,63.10 L159.67,66.01 L160.00,69.17 L160.33,72.54 L160.67,76.06 L161.00,79.66 L161.33,83.29 L161.67,86.88 L162.00,90.38 L162.33,93.73 L162.67,96.87 L163.00,99.73 L163.33,102.26 L163.67,104.00 M186.33,103.66 L186.67,103.26 L187.00,102.80 L187.33,102.31 L187.67,101.78 L188.00,101.24 L188.33,100.68 L188.67,100.13 L189.00,99.58 L189.33,99.05 L189.67,98.55 L190.00,98.10 L190.33,97.69 L190.67,97.34 L191.00,97.31 L191.33,97.34 L191.67,97.69 L192.00,98.10 L192.33,98.55 L192.67,99.05 L193.00,99.58 L193.33,100.13 L193.67,100.68 L194.00,101.24 L194.33,101.78 L194.67,102.31 L195.00,102.80 L195.33,103.26 L195.67,103.66 M199.33,103.63 L199.67,103.17 L200.00,102.64 L200.33,102.08 L200.67,101.49 L201.00,100.91 L201.33,100.36 L201.67,99.86 L202.00,99.43 L202.33,99.22 L202.67,99.22 L203.00,99.43 L203.33,99.86 L203.67,100.36 L204.00,100.91 L204.33,101.49 L204.67,102.08 L205.00,102.64 L205.33,103.17 L205.67,103.63" fill="none" stroke="#3a3a3a" stroke-width="0.90" stroke-linejoin="round"/>
<path d="M169.00,104.00 L169.33,100.82 L169.67,96.97 L170.00,92.60 L170.33,87.85 L170.67,82.88 L171.00,77.83 L171.33,72.84 L171.67,68.06 L172.00,63.65 L172.33,59.74 L172.67,56.48 L173.00,56.20 L173.33,56.20 L173.67,56.20 L174.00,56.20 L174.33,56.20 L174.67,56.20 L175.00,56.20 L175.33,56.20 L175.67,56.20 L176.00,56.20 L176.33,56.20 L176.67,56.20 L177.00,56.20 L177.33,56.20 L177.67,56.20 L178.00,56.20 L178.33,58.35 L178.67,62.02 L179.00,66.25 L179.33,70.89 L179.67,75.81 L180.00,80.86 L180.33,85.88 L180.67,90.74 L181.00,95.27 L181.33,99.35 L181.67,102.82 L182.00,104.00 M195.00,104.00 L195.33,101.94 L195.67,95.47 L196.00,87.67 L196.33,79.25 L196.67,70.89 L197.00,63.31 L197.33,57.19 L197.67,56.20 L198.00,56.20 L198.33,56.20 L198.67,56.20 L199.00,56.20 L199.33,56.20 L199.67,56.20 L200.00,56.20 L200.33,56.20 L200.67,56.20 L201.00,56.20 L201.33,56.20 L201.67,56.20 L202.00,56.20 L202.33,56.20 L202.67,56.20 L203.00,56.20 L203.33,56.20 L203.67,60.64 L204.00,67.73 L204.33,75.86 L204.67,84.34 L205.00,92.47 L205.33,99.56 L205.67,104.00" fill="none" stroke="#7070e0" stroke-width="0.90" stroke-linejoin="round"/>
<path d="M183.00,103.48 L183.33,103.21 L183.67,102.86 L184.00,102.43 L184.33,101.94 L184.67,101.42 L185.00,100.94 L185.33,100.54 L185.67,100.27 L186.00,100.18 L186.33,100.27 L186.67,100.54 L187.00,100.94 L187.33,101.42 L187.67,101.94 L188.00,99.86 L188.33,95.02 L188.67,89.17 L189.00,82.70 L189.33,75.97 L189.67,69.39 L190.00,63.35 L190.33,58.24 L190.67,56.20 L191.00,56.20 L191.33,56.20 L191.67,56.20 L192.00,56.20 L192.33,56.20 L192.67,56.20 L193.00,56.20 L193.33,56.20 L193.67,56.20 L194.00,56.20 L194.33,56.20 L194.67,56.20 L195.00,56.20 L195.33,56.20 L195.67,59.58 L196.00,66.36 L196.33,73.70 L196.67,81.21 L197.00,88.48 L197.33,95.13 L197.67,100.76 L198.00,102.95 L198.33,103.44" fill="none" stroke="#e8708c" stroke-width="0.90" stroke-linejoin="round"/>
<line x1="127.00" y1="104.00" x2="208.00" y2="104.00" stroke="#999" stroke-width="0.7"/>
<text x="237.00" y="32.20" font-family='"Liberation Serif", serif' font-size="11.00" font-weight="normal" fill="#111" text-anchor="start" textLength="31.60" lengthAdjust="spacingAndGlyphs" stroke="#111" stroke-width="0.26">D816V</text>
<text x="220.70" y="41.40" font-family='"Liberation Serif", serif' font-size="8.80" font-weight="normal" fill="#111" text-anchor="start" textLength="13.50" lengthAdjust="spacingAndGlyphs" stroke="#111" stroke-width="0.26">815</text>
<text x="243.90" y="41.40" font-family='"Liberation Serif", serif' font-size="8.80" font-weight="normal" fill="#111" text-anchor="start" textLength="13.60" lengthAdjust="spacingAndGlyphs" stroke="#111" stroke-width="0.26">816</text>
<text x="269.10" y="41.40" font-family='"Liberation Serif", serif' font-size="8.80" font-weight="normal" fill="#111" text-anchor="start" textLength="13.60" lengthAdjust="spacingAndGlyphs" stroke="#111" stroke-width="0.26">817</text>
<text x="219.70" y="52.20" font-family='"Liberation Serif", serif' font-size="6.60" font-weight="bold" stroke-width="0.22" textLength="15.10" lengthAdjust="spacingAndGlyphs"><tspan fill="#22a022" stroke="#22a022">A</tspan><tspan fill="#111" stroke="#111">G</tspan><tspan fill="#22a022" stroke="#22a022">A</tspan></text>
<text x="242.00" y="52.20" font-family='"Liberation Serif", serif' font-size="6.60" font-weight="bold" stroke-width="0.22" textLength="18.00" lengthAdjust="spacingAndGlyphs"><tspan fill="#111" stroke="#111">G</tspan><tspan fill="#d01838" stroke="#d01838" font-size="8.91">T</tspan><tspan fill="#2020b8" stroke="#2020b8">C</tspan></text>
<text x="270.50" y="52.20" font-family='"Liberation Serif", serif' font-size="6.60" font-weight="bold" stroke-width="0.22" textLength="14.10" lengthAdjust="spacingAndGlyphs"><tspan fill="#22a022" stroke="#22a022">A</tspan><tspan fill="#d01838" stroke="#d01838">T</tspan><tspan fill="#2020b8" stroke="#2020b8">C</tspan></text>
<path d="M215.03,104.00 L215.37,100.27 L215.70,94.50 L216.04,87.83 L216.37,80.67 L216.71,73.42 L217.04,66.48 L217.38,60.24 L217.71,55.12 L218.05,54.00 L218.38,54.00 L218.72,54.00 L219.05,54.00 L219.38,54.00 L219.72,54.00 L220.05,54.00 L220.39,54.00 L220.72,54.00 L221.06,54.00 L221.39,54.00 L221.73,54.00 L222.06,54.00 L222.40,54.00 L222.73,54.00 L223.07,54.00 L223.40,54.00 L223.74,55.75 L224.07,61.06 L224.40,67.42 L224.74,74.42 L225.07,81.69 L225.41,88.80 L225.74,95.37 L226.08,100.98 L226.41,104.00 M232.10,104.00 L232.44,98.40 L232.77,84.83 L233.10,69.88 L233.44,57.12 L233.77,54.00 L234.11,54.00 L234.44,54.00 L234.78,54.00 L235.11,54.00 L235.45,54.00 L235.78,54.00 L236.12,54.00 L236.45,54.00 L236.79,54.00 L237.12,54.00 L237.45,54.00 L237.79,54.00 L238.12,54.00 L238.46,54.00 L238.79,54.00 L239.13,54.00 L239.46,54.00 L239.80,54.00 L240.13,54.00 L240.47,54.00 L240.80,55.36 L241.14,67.36 L241.47,82.18 L241.81,96.25 L242.14,104.00 M264.89,104.00 L265.23,94.50 L265.56,79.51 L265.90,64.39 L266.23,54.00 L266.57,54.00 L266.90,54.00 L267.24,54.00 L267.57,54.00 L267.91,54.00 L268.24,54.00 L268.58,54.00 L268.91,54.00 L269.25,54.00 L269.58,54.00 L269.91,54.00 L270.25,54.00 L270.58,54.00 L270.92,54.00 L271.25,54.00 L271.59,54.00 L271.92,54.00 L272.26,54.00 L272.59,54.00 L272.93,54.00 L273.26,54.00 L273.60,60.22 L273.93,74.54 L274.26,90.01 L274.60,102.59 L274.93,104.00 M289.99,104.00 L290.33,97.44 L290.66,88.77 L291.00,79.11 L291.33,69.44 L291.67,60.74 L292.00,54.00" fill="none" stroke="#8fd87c" stroke-width="0.90" stroke-linejoin="round"/>
<path d="M224.74,104.00 L225.07,98.31 L225.41,83.48 L225.74,67.40 L226.08,54.63 L226.41,54.00 L226.75,54.00 L227.08,54.00 L227.42,54.00 L227.75,54.00 L228.09,54.00 L228.42,54.00 L228.75,54.00 L229.09,54.00 L229.42,54.00 L229.76,54.00 L230.09,54.00 L230.43,54.00 L230.76,54.00 L231.10,54.00 L231.43,54.00 L231.77,54.00 L232.10,54.00 L232.44,54.00 L232.77,54.00 L233.10,54.00 L233.44,54.00 L233.77,54.00 L234.11,54.00 L234.44,58.57 L234.78,73.06 L235.11,89.21 L235.45,102.47 L235.78,104.00 M242.47,104.00 L242.81,102.26 L243.14,95.60 L243.48,87.48 L243.81,78.65 L244.15,69.86 L244.48,61.82 L244.82,55.30 L245.15,54.00 L245.49,54.00 L245.82,54.00 L246.16,54.00 L246.49,54.00 L246.82,54.00 L247.16,54.00 L247.49,54.00 L247.83,54.00 L248.16,54.00 L248.50,54.00 L248.83,54.00 L249.17,54.00 L249.50,54.00 L249.84,54.00 L250.17,54.00 L250.51,54.00 L250.84,54.61 L251.17,60.89 L251.51,68.77 L251.84,77.51 L252.18,86.37 L252.51,94.62 L252.85,101.52 L253.18,104.00" fill="none" stroke="#3a3a3a" stroke-width="0.90" stroke-linejoin="round"/>
<path d="M214.70,54.00 L215.03,54.00 L215.37,54.00 L215.70,56.30 L216.04,67.82 L216.37,80.89 L216.71,93.56 L217.04,102.28 L217.38,102.97 L217.71,103.59 M256.53,104.00 L256.86,97.15 L257.20,87.67 L257.53,77.16 L257.87,66.87 L258.20,58.03 L258.54,54.00 L258.87,54.00 L259.21,54.00 L259.54,54.00 L259.88,54.00 L260.21,54.00 L260.54,54.00 L260.88,54.00 L261.21,54.00 L261.55,54.00 L261.88,54.00 L262.22,54.00 L262.55,54.00 L262.89,54.00 L263.22,54.00 L263.56,54.00 L263.89,54.00 L264.23,54.00 L264.56,57.18 L264.89,65.78 L265.23,75.97 L265.56,86.52 L265.90,96.18 L266.23,103.70 M284.30,104.00 L284.64,95.76 L284.97,80.33 L285.31,64.54 L285.64,54.00 L285.98,54.00 L286.31,54.00 L286.65,54.00 L286.98,54.00 L287.32,54.00 L287.65,54.00 L287.98,54.00 L288.32,54.00 L288.65,54.00 L288.99,54.00 L289.32,54.00 L289.66,54.00 L289.99,54.00 L290.33,54.00 L290.66,54.00 L291.00,54.00 L291.33,66.21 L291.67,82.19 L292.00,97.29" fill="none" stroke="#7070e0" stroke-width="0.90" stroke-linejoin="round"/>
<path d="M248.16,104.00 L248.50,102.19 L248.83,94.30 L249.17,84.62 L249.50,74.33 L249.84,64.55 L250.17,56.44 L250.51,54.00 L250.84,54.00 L251.17,54.00 L251.51,54.00 L251.84,54.00 L252.18,54.00 L252.51,54.00 L252.85,54.00 L253.18,54.00 L253.52,54.00 L253.85,54.00 L254.19,54.00 L254.52,54.00 L254.86,54.00 L255.19,54.00 L255.53,54.00 L255.86,54.00 L256.19,54.00 L256.53,58.62 L256.86,67.35 L257.20,77.40 L257.53,87.63 L257.87,96.89 L258.20,104.00 M273.26,103.80 L273.60,95.81 L273.93,85.50 L274.26,74.33 L274.60,63.78 L274.93,55.30 L275.27,54.00 L275.60,54.00 L275.94,54.00 L276.27,54.00 L276.61,54.00 L276.94,54.00 L277.28,54.00 L277.61,54.00 L277.95,54.00 L278.28,54.00 L278.61,54.00 L278.95,54.00 L279.28,54.00 L279.62,54.00 L279.95,54.00 L280.29,54.00 L280.62,54.00 L280.96,54.00 L281.29,54.00 L281.63,54.00 L281.96,57.41 L282.30,66.62 L282.63,77.50 L282.96,88.57 L283.30,98.38 L283.63,104.00" fill="none" stroke="#e8708c" stroke-width="0.90" stroke-linejoin="round"/>
<line x1="214.70" y1="104.00" x2="292.00" y2="104.00" stroke="#999" stroke-width="0.7"/>
<text x="467.00" y="33.70" font-family='"Liberation Serif", serif' font-size="10.60" font-weight="normal" fill="#111" text-anchor="start" textLength="31.00" lengthAdjust="spacingAndGlyphs" stroke="#111" stroke-width="0.26">D816Y</text>
<text x="453.70" y="43.10" font-family='"Liberation Serif", serif' font-size="8.80" font-weight="normal" fill="#111" text-anchor="start" textLength="13.50" lengthAdjust="spacingAndGlyphs" stroke="#111" stroke-width="0.26">815</text>
<text x="475.00" y="43.10" font-family='"Liberation Serif", serif' font-size="8.80" font-weight="normal" fill="#111" text-anchor="start" textLength="13.10" lengthAdjust="spacingAndGlyphs" stroke="#111" stroke-width="0.26">816</text>
<text x="498.20" y="43.10" font-family='"Liberation Serif", serif' font-size="8.80" font-weight="normal" fill="#111" text-anchor="start" textLength="13.20" lengthAdjust="spacingAndGlyphs" stroke="#111" stroke-width="0.26">817</text>
<text x="453.30" y="53.70" font-family='"Liberation Serif", serif' font-size="6.60" font-weight="bold" stroke-width="0.22" textLength="15.80" lengthAdjust="spacingAndGlyphs"><tspan fill="#22a022" stroke="#22a022">A</tspan><tspan fill="#111" stroke="#111">G</tspan><tspan fill="#22a022" stroke="#22a022">A</tspan></text>
<text x="475.00" y="53.70" font-family='"Liberation Serif", serif' font-size="6.60" font-weight="bold" stroke-width="0.22" textLength="17.20" lengthAdjust="spacingAndGlyphs"><tspan fill="#d01838" stroke="#d01838" font-size="8.91">T</tspan><tspan fill="#22a022" stroke="#22a022">A</tspan><tspan fill="#2020b8" stroke="#2020b8">C</tspan></text>
<text x="498.20" y="53.70" font-family='"Liberation Serif", serif' font-size="6.60" font-weight="bold" stroke-width="0.22" textLength="15.10" lengthAdjust="spacingAndGlyphs"><tspan fill="#22a022" stroke="#22a022">A</tspan><tspan fill="#d01838" stroke="#d01838">T</tspan><tspan fill="#2020b8" stroke="#2020b8">C</tspan></text>
<path d="M449.30,104.00 L449.63,97.37 L449.97,88.83 L450.30,79.32 L450.63,69.82 L450.97,61.28 L451.30,54.70 L451.64,54.70 L451.97,54.70 L452.30,54.70 L452.64,54.70 L452.97,54.70 L453.30,54.70 L453.64,54.70 L453.97,54.70 L454.30,54.70 L454.64,54.70 L454.97,54.70 L455.31,54.70 L455.64,54.70 L455.97,54.70 L456.31,54.70 L456.64,54.70 L456.97,54.70 L457.31,54.70 L457.64,54.70 L457.98,60.00 L458.31,68.28 L458.64,77.69 L458.98,87.26 L459.31,96.04 L459.64,103.06 L459.98,104.00 M466.98,104.00 L467.32,101.37 L467.65,91.61 L467.99,79.89 L468.32,68.08 L468.65,58.07 L468.99,54.70 L469.32,54.70 L469.65,54.70 L469.99,54.70 L470.32,54.70 L470.65,54.70 L470.99,54.70 L471.32,54.70 L471.66,54.70 L471.99,54.70 L472.32,54.70 L472.66,54.70 L472.99,54.70 L473.32,57.47 L473.66,67.29 L473.99,79.03 L474.32,90.82 L474.66,100.78 L474.99,104.00 M479.66,104.00 L480.00,98.56 L480.33,86.29 L480.66,72.61 L481.00,60.30 L481.33,54.70 L481.67,54.70 L482.00,54.70 L482.33,54.70 L482.67,54.70 L483.00,54.70 L483.33,54.70 L483.67,54.70 L484.00,54.70 L484.33,54.70 L484.67,54.70 L485.00,54.70 L485.34,54.70 L485.67,54.70 L486.00,54.70 L486.34,54.70 L486.67,54.70 L487.00,60.36 L487.34,72.69 L487.67,86.37 L488.00,98.62 L488.34,104.00 M494.34,104.00 L494.68,95.86 L495.01,82.99 L495.35,69.38 L495.68,57.83 L496.01,54.70 L496.35,54.70 L496.68,54.70 L497.01,54.70 L497.35,54.70 L497.68,54.70 L498.01,54.70 L498.35,54.70 L498.68,54.70 L499.02,54.70 L499.35,54.70 L499.68,54.70 L500.02,54.70 L500.35,54.70 L500.68,56.81 L501.02,67.96 L501.35,81.48 L501.69,94.57 L502.02,104.00" fill="none" stroke="#8fd87c" stroke-width="0.90" stroke-linejoin="round"/>
<path d="M458.98,104.00 L459.31,99.87 L459.64,91.40 L459.98,81.57 L460.31,71.49 L460.64,62.28 L460.98,55.07 L461.31,54.70 L461.65,54.70 L461.98,54.70 L462.31,54.70 L462.65,54.70 L462.98,54.70 L463.31,54.70 L463.65,54.70 L463.98,54.70 L464.31,54.70 L464.65,54.70 L464.98,54.70 L465.32,54.70 L465.65,54.70 L465.98,54.70 L466.32,54.70 L466.65,54.70 L466.98,54.70 L467.32,61.30 L467.65,70.29 L467.99,80.24 L468.32,90.03 L468.65,98.49 L468.99,103.15 L469.32,102.70 L469.65,102.11 L469.99,101.40 L470.32,100.58 L470.65,99.71 L470.99,98.90 L471.32,98.21 L471.66,97.76 L471.99,97.59 L472.32,97.73 L472.66,98.16 L472.99,98.82 L473.32,99.61 L473.66,100.42 L473.99,101.16 L474.32,101.75 L474.66,102.13 L474.99,102.27 L475.33,102.14 L475.66,101.78 L475.99,101.20 L476.33,100.46 L476.66,99.65 L476.99,98.86 L477.33,98.19 L477.66,97.75 L478.00,97.59 L478.33,97.74 L478.66,98.19 L479.00,98.86 L479.33,99.67 L479.66,100.53 L480.00,101.36 L480.33,102.08 L480.66,102.68 L481.00,103.13 L481.33,103.46" fill="none" stroke="#3a3a3a" stroke-width="0.90" stroke-linejoin="round"/>
<path d="M449.30,103.65 L449.63,103.31 L449.97,102.78 L450.30,102.08 L450.63,101.29 L450.97,100.58 L451.30,100.13 L451.64,100.09 L451.97,100.47 L452.30,101.14 L452.64,101.93 L452.97,102.66 L453.30,103.23 L453.64,103.60 M487.00,103.91 L487.34,93.75 L487.67,80.54 L488.00,67.09 L488.34,56.20 L488.67,54.70 L489.01,54.70 L489.34,54.70 L489.67,54.70 L490.01,54.70 L490.34,54.70 L490.67,54.70 L491.01,54.70 L491.34,54.70 L491.68,54.70 L492.01,54.70 L492.34,54.70 L492.68,54.70 L493.01,54.70 L493.34,54.70 L493.68,54.70 L494.01,54.70 L494.34,54.70 L494.68,54.70 L495.01,54.70 L495.35,58.53 L495.68,70.31 L496.01,83.95 L496.35,96.64 L496.68,103.90 M498.68,103.44 L499.02,103.28 L499.35,103.10 L499.68,102.87 L500.02,102.61 L500.35,102.31 L500.68,101.96 L501.02,101.58 L501.35,101.16 L501.69,100.71 L502.02,100.23 L502.35,99.74 L502.69,99.24 L503.02,98.75 L503.35,98.28 L503.69,97.84 L504.02,97.45 L504.35,97.12 L504.69,96.87 L505.02,96.70 L505.36,96.61 L505.69,96.62 L506.02,96.72 L506.36,95.28 L506.69,82.46 L507.02,66.91 L507.36,54.70 L507.69,54.70 L508.02,54.70 L508.36,54.70 L508.69,54.70 L509.03,54.70 L509.36,54.70 L509.69,54.70 L510.03,54.70 L510.36,54.70 L510.69,54.70 L511.03,54.70 L511.36,54.70 L511.70,60.25 L512.03,75.22 L512.36,91.11 L512.70,103.48" fill="none" stroke="#7070e0" stroke-width="0.90" stroke-linejoin="round"/>
<path d="M472.99,104.00 L473.32,101.83 L473.66,94.38 L473.99,85.36 L474.32,75.75 L474.66,66.49 L474.99,58.55 L475.33,54.70 L475.66,54.70 L475.99,54.70 L476.33,54.70 L476.66,54.70 L476.99,54.70 L477.33,54.70 L477.66,54.70 L478.00,54.70 L478.33,54.70 L478.66,54.70 L479.00,54.70 L479.33,54.70 L479.66,54.70 L480.00,54.70 L480.33,61.26 L480.66,69.79 L481.00,79.29 L481.33,88.80 L481.67,97.35 L482.00,103.98 M500.02,104.00 L500.35,99.24 L500.68,84.91 L501.02,69.04 L501.35,56.08 L501.69,54.70 L502.02,54.70 L502.35,54.70 L502.69,54.70 L503.02,54.70 L503.35,54.70 L503.69,54.70 L504.02,54.70 L504.35,54.70 L504.69,54.70 L505.02,54.70 L505.36,54.70 L505.69,54.70 L506.02,54.70 L506.36,54.70 L506.69,54.70 L507.02,54.70 L507.36,65.68 L507.69,80.60 L508.02,94.04 L508.36,98.27 L508.69,96.50 L509.03,94.38 L509.36,91.92 L509.69,89.15 L510.03,86.13 L510.36,82.93 L510.69,79.69 L511.03,76.52 L511.36,73.59 L511.70,71.05 L512.03,69.05 L512.36,67.69 L512.70,67.06 L513.03,67.21 L513.36,68.12 L513.70,69.73 L514.03,71.96 L514.36,74.66 L514.70,77.70 L515.03,80.91 L515.37,84.15 L515.70,87.29 L516.03,90.23 L516.37,92.89 L516.70,95.22" fill="none" stroke="#e8708c" stroke-width="0.90" stroke-linejoin="round"/>
<line x1="449.30" y1="104.00" x2="516.70" y2="104.00" stroke="#999" stroke-width="0.7"/>
<text x="164.80" y="170.60" font-family='"Liberation Serif", serif' font-size="11.20" font-weight="normal" fill="#111" text-anchor="start" textLength="88.80" lengthAdjust="spacingAndGlyphs" stroke="#111" stroke-width="0.26">Insertion VI815-816</text>
<text x="158.50" y="180.20" font-family='"Liberation Serif", serif' font-size="8.80" font-weight="normal" fill="#111" text-anchor="start" textLength="13.20" lengthAdjust="spacingAndGlyphs" stroke="#111" stroke-width="0.26">815</text>
<text x="225.90" y="180.20" font-family='"Liberation Serif", serif' font-size="8.80" font-weight="normal" fill="#111" text-anchor="start" textLength="13.80" lengthAdjust="spacingAndGlyphs" stroke="#111" stroke-width="0.26">816</text>
<text x="251.00" y="180.20" font-family='"Liberation Serif", serif' font-size="8.80" font-weight="normal" fill="#111" text-anchor="start" textLength="14.10" lengthAdjust="spacingAndGlyphs" stroke="#111" stroke-width="0.26">817</text>
<text x="159.30" y="187.70" font-family='"Liberation Serif", serif' font-size="6.60" font-weight="bold" stroke-width="0.22" textLength="14.70" lengthAdjust="spacingAndGlyphs"><tspan fill="#22a022" stroke="#22a022">A</tspan><tspan fill="#111" stroke="#111">G</tspan><tspan fill="#22a022" stroke="#22a022">A</tspan></text>
<text x="181.00" y="187.70" font-family='"Liberation Serif", serif' font-size="6.60" font-weight="bold" stroke-width="0.22" textLength="14.70" lengthAdjust="spacingAndGlyphs"><tspan fill="#111" stroke="#111">G</tspan><tspan fill="#d01838" stroke="#d01838">T</tspan><tspan fill="#2020b8" stroke="#2020b8">C</tspan></text>
<text x="203.50" y="187.70" font-family='"Liberation Serif", serif' font-size="6.60" font-weight="bold" stroke-width="0.22" textLength="14.70" lengthAdjust="spacingAndGlyphs"><tspan fill="#22a022" stroke="#22a022">A</tspan><tspan fill="#d01838" stroke="#d01838">T</tspan><tspan fill="#22a022" stroke="#22a022">A</tspan></text>
<text x="225.00" y="187.70" font-family='"Liberation Serif", serif' font-size="6.60" font-weight="bold" stroke-width="0.22" textLength="15.20" lengthAdjust="spacingAndGlyphs"><tspan fill="#111" stroke="#111">G</tspan><tspan fill="#22a022" stroke="#22a022">A</tspan><tspan fill="#2020b8" stroke="#2020b8">C</tspan></text>
<text x="249.20" y="187.70" font-family='"Liberation Serif", serif' font-size="6.60" font-weight="bold" stroke-width="0.22" textLength="13.80" lengthAdjust="spacingAndGlyphs"><tspan fill="#22a022" stroke="#22a022">A</tspan><tspan fill="#d01838" stroke="#d01838">T</tspan><tspan fill="#2020b8" stroke="#2020b8">C</tspan></text>
<path d="M152.80,239.20 L153.14,236.71 L153.47,229.05 L153.81,219.85 L154.14,210.08 L154.47,200.72 L154.81,192.75 L155.14,189.20 L155.48,189.20 L155.81,189.20 L156.15,189.20 L156.48,189.20 L156.81,189.20 L157.15,189.20 L157.48,189.20 L157.82,189.20 L158.15,191.91 L158.48,199.63 L158.82,208.87 L159.15,218.64 L159.49,227.97 L159.82,235.87 L160.15,239.20 M167.84,239.20 L168.17,236.73 L168.51,230.77 L168.84,223.68 L169.17,215.99 L169.51,208.17 L169.84,200.75 L170.18,194.21 L170.51,189.20 L170.84,189.20 L171.18,189.20 L171.51,189.20 L171.85,189.20 L172.18,189.20 L172.51,189.20 L172.85,189.20 L173.18,189.20 L173.52,189.42 L173.85,194.70 L174.19,201.33 L174.52,208.80 L174.85,216.62 L175.19,224.29 L175.52,231.30 L175.86,237.15 L176.19,239.20 M199.24,238.66 L199.57,233.27 L199.91,226.57 L200.24,219.05 L200.58,211.23 L200.91,203.59 L201.24,196.65 L201.58,190.89 L201.91,189.20 L202.25,189.20 L202.58,189.20 L202.92,189.20 L203.25,189.20 L203.58,189.20 L203.92,189.20 L204.25,189.20 L204.59,189.20 L204.92,189.20 L205.25,189.20 L205.59,189.20 L205.92,192.47 L206.26,198.64 L206.59,205.85 L206.92,213.59 L207.26,221.38 L207.59,228.70 L207.93,235.06 L208.26,239.20 M210.26,239.20 L210.60,234.41 L210.93,227.62 L211.27,219.87 L211.60,211.73 L211.94,203.76 L212.27,196.52 L212.60,190.59 L212.94,189.20 L213.27,189.20 L213.61,189.20 L213.94,189.20 L214.27,189.20 L214.61,189.20 L214.94,189.20 L215.28,189.20 L215.61,189.20 L215.94,189.20 L216.28,189.20 L216.61,189.20 L216.95,189.20 L217.28,189.20 L217.61,189.20 L217.95,189.20 L218.28,189.20 L218.62,189.20 L218.95,189.20 L219.28,189.20 L219.62,189.20 L219.95,189.20 L220.29,189.20 L220.62,194.40 L220.96,201.27 L221.29,209.06 L221.62,217.21 L221.96,225.15 L222.29,232.32 L222.63,238.14 L222.96,239.20 M230.98,239.20 L231.31,237.12 L231.65,229.15 L231.98,219.45 L232.31,209.16 L232.65,199.44 L232.98,191.42 L233.32,189.20 L233.65,189.20 L233.98,189.20 L234.32,189.20 L234.65,189.20 L234.99,189.20 L235.32,189.20 L235.65,189.20 L235.99,189.20 L236.32,189.20 L236.66,189.20 L236.99,189.20 L237.32,189.20 L237.66,189.20 L237.99,189.20 L238.33,189.67 L238.66,197.03 L239.00,206.40 L239.33,216.64 L239.66,226.62 L240.00,235.18 L240.33,239.20 M244.67,239.20 L245.01,232.27 L245.34,222.51 L245.68,211.71 L246.01,201.22 L246.34,192.37 L246.68,189.20 L247.01,189.20 L247.35,189.20 L247.68,189.20 L248.01,189.20 L248.35,189.20 L248.68,189.20 L249.02,189.20 L249.35,189.20 L249.69,189.20 L250.02,189.20 L250.35,189.20 L250.69,189.20 L251.02,189.20 L251.36,189.20 L251.69,189.20 L252.02,189.20 L252.36,189.20 L252.69,189.20 L253.03,191.72 L253.36,200.35 L253.69,210.75 L254.03,221.58 L254.36,231.49 L254.70,239.13" fill="none" stroke="#8fd87c" stroke-width="0.90" stroke-linejoin="round"/>
<path d="M158.48,238.60 L158.82,238.37 L159.15,238.09 L159.49,237.75 L159.82,235.69 L160.15,231.37 L160.49,226.35 L160.82,220.84 L161.16,215.04 L161.49,209.16 L161.82,203.39 L162.16,197.94 L162.49,192.99 L162.83,189.20 L163.16,189.20 L163.49,189.20 L163.83,189.20 L164.16,189.20 L164.50,189.20 L164.83,189.20 L165.17,189.20 L165.50,189.20 L165.83,189.20 L166.17,189.20 L166.50,189.20 L166.84,189.20 L167.17,189.20 L167.50,189.20 L167.84,189.20 L168.17,189.66 L168.51,193.27 L168.84,197.52 L169.17,202.24 L169.51,207.22 L169.84,212.26 L170.18,217.16 L170.51,221.74 L170.84,225.82 L171.18,229.25 L171.51,231.88 L171.85,231.99 L172.18,230.79 L172.51,229.73 L172.85,228.90 L173.18,228.37 L173.52,228.20 L173.85,228.41 L174.19,228.97 L174.52,229.83 L174.85,230.91 L175.19,232.11 L175.52,233.34 L175.86,232.98 L176.19,230.12 L176.52,226.42 L176.86,222.04 L177.19,217.18 L177.53,212.03 L177.86,206.79 L178.19,201.68 L178.53,196.91 L178.86,192.66 L179.20,189.20 L179.53,189.20 L179.86,189.20 L180.20,189.20 L180.53,189.20 L180.87,189.20 L181.20,189.20 L181.53,189.20 L181.87,189.20 L182.20,189.20 L182.54,189.20 L182.87,189.20 L183.20,189.20 L183.54,189.20 L183.87,189.20 L184.21,190.76 L184.54,194.36 L184.88,198.38 L185.21,202.66 L185.54,207.07 L185.88,211.45 L186.21,215.71 L186.55,219.70 L186.88,223.32 L187.21,226.41 L187.55,226.80 L187.88,226.58 L188.22,226.58 L188.55,226.74 L188.88,227.02 L189.22,227.35 L189.55,227.68 L189.89,227.97 L190.22,228.17 L190.55,228.27 L190.89,228.28 L191.22,228.21 L191.56,228.08 L191.89,227.93 L192.22,227.78 L192.56,227.65 L192.89,227.54 L193.23,227.48 L193.56,227.44 L193.90,227.43 L194.23,227.44 L194.56,227.46 L194.90,227.48 L195.23,227.52 L195.57,227.58 L195.90,227.68 L196.23,227.83 L196.57,228.06 L196.90,228.36 L197.24,228.75 L197.57,229.21 L197.90,229.74 L198.24,230.30 L198.57,230.88 L198.91,231.46 L199.24,232.01 L199.57,232.54 L199.91,233.03 L200.24,233.50 L200.58,233.96 L200.91,234.42 L201.24,234.88 L201.58,235.36 L201.91,235.85 L202.25,236.34 L202.58,236.82 L202.92,237.27 L203.25,237.67 L203.58,238.03 L203.92,238.33 L204.25,238.58 L204.59,238.77 M224.30,239.20 L224.63,236.85 L224.96,232.75 L225.30,228.00 L225.63,222.78 L225.97,217.28 L226.30,211.68 L226.63,206.16 L226.97,200.91 L227.30,196.10 L227.64,191.93 L227.97,189.20 L228.30,189.20 L228.64,189.20 L228.97,192.04 L229.31,196.23 L229.64,201.05 L229.98,206.32 L230.31,211.84 L230.64,217.44 L230.98,222.93 L231.31,228.14 L231.65,232.87 L231.98,236.95 L232.31,239.20 M238.66,238.81 L239.00,238.56 L239.33,238.22 L239.66,237.75 L240.00,237.14 L240.33,236.41 L240.67,235.57 L241.00,234.69 L241.33,233.83 L241.67,233.09 L242.00,232.53 L242.34,232.24 L242.67,232.24 L243.00,232.54 L243.34,233.10 L243.67,233.85 L244.01,234.71 L244.34,235.59 L244.67,236.42 L245.01,237.15 L245.34,237.76 L245.68,238.22 L246.01,238.57 L246.34,238.81" fill="none" stroke="#3a3a3a" stroke-width="0.90" stroke-linejoin="round"/>
<path d="M150.80,216.46 L151.13,201.73 L151.47,190.03 L151.80,189.20 L152.14,189.20 L152.47,189.20 L152.80,189.20 L153.14,189.20 L153.47,189.20 L153.81,199.33 L154.14,213.78 L154.47,228.33 L154.81,239.20 M191.56,239.20 L191.89,236.01 L192.22,228.93 L192.56,220.59 L192.89,211.72 L193.23,203.05 L193.56,195.32 L193.90,189.27 L194.23,189.20 L194.56,189.20 L194.90,189.20 L195.23,189.20 L195.57,189.20 L195.90,189.20 L196.23,189.20 L196.57,189.20 L196.90,189.20 L197.24,189.20 L197.57,189.20 L197.90,189.20 L198.24,189.20 L198.57,189.20 L198.91,189.29 L199.24,195.36 L199.57,203.09 L199.91,211.76 L200.24,220.63 L200.58,228.97 L200.91,236.04 L201.24,239.20 M239.66,239.20 L240.00,228.46 L240.33,212.67 L240.67,197.30 L241.00,189.20 L241.33,189.20 L241.67,189.20 L242.00,189.20 L242.34,189.20 L242.67,189.20 L243.00,189.20 L243.34,189.20 L243.67,189.20 L244.01,189.20 L244.34,189.20 L244.67,189.20 L245.01,189.20 L245.34,189.20 L245.68,189.20 L246.01,200.52 L246.34,216.38 L246.68,231.64 L247.01,239.20 M261.38,239.20 L261.71,236.68 L262.05,226.82 L262.38,214.93 L262.71,202.93 L263.05,192.73 L263.38,189.20 L263.72,189.20 L264.05,189.20 L264.38,189.20 L264.72,189.20 L265.05,189.20 L265.39,189.20 L265.72,189.20 L266.05,189.20 L266.39,189.20 L266.72,189.20 L267.06,189.20 L267.39,189.20 L267.73,189.20 L268.06,190.47 L268.39,199.84 L268.73,211.54 L269.06,223.65 L269.40,234.26 L269.73,239.20" fill="none" stroke="#7070e0" stroke-width="0.90" stroke-linejoin="round"/>
<path d="M175.52,238.75 L175.86,238.56 L176.19,238.30 L176.52,237.99 L176.86,237.60 L177.19,237.15 L177.53,236.64 L177.86,236.10 L178.19,235.54 L178.53,235.01 L178.86,234.52 L179.20,234.13 L179.53,233.85 L179.86,233.71 L180.20,233.73 L180.53,233.89 L180.87,234.19 L181.20,234.61 L181.53,235.10 L181.87,235.65 L182.20,236.20 L182.54,236.74 L182.87,237.24 L183.20,237.68 L183.54,238.05 L183.87,238.36 L184.21,238.60 L184.54,238.78 M186.88,239.19 L187.21,236.63 L187.55,226.75 L187.88,214.86 L188.22,202.86 L188.55,192.68 L188.88,189.20 L189.22,189.20 L189.55,189.20 L189.89,189.20 L190.22,189.20 L190.55,189.20 L190.89,189.20 L191.22,189.20 L191.56,189.20 L191.89,189.20 L192.22,189.20 L192.56,189.20 L192.89,189.20 L193.23,189.20 L193.56,189.20 L193.90,193.89 L194.23,204.43 L194.56,216.53 L194.90,228.26 L195.23,237.72 L195.57,239.20 M207.93,239.20 L208.26,233.85 L208.59,224.96 L208.93,214.86 L209.26,204.69 L209.60,195.58 L209.93,189.20 L210.26,189.20 L210.60,189.20 L210.93,189.20 L211.27,189.20 L211.60,189.20 L211.94,189.20 L212.27,189.20 L212.60,189.20 L212.94,189.20 L213.27,189.20 L213.61,189.20 L213.94,189.20 L214.27,189.20 L214.61,189.20 L214.94,189.20 L215.28,189.35 L215.61,197.01 L215.94,206.26 L216.28,216.02 L216.61,225.22 L216.95,232.77 L217.28,233.97 L217.61,234.45 L217.95,235.10 L218.28,235.83 L218.62,236.56 L218.95,237.23 L219.28,237.81 L219.62,238.26 L219.95,238.60 L220.29,238.83 M254.36,239.20 L254.70,233.34 L255.03,224.83 L255.36,215.24 L255.70,205.54 L256.03,196.72 L256.37,189.75 L256.70,189.20 L257.03,189.20 L257.37,189.20 L257.70,189.20 L258.04,189.20 L258.37,189.20 L258.71,189.20 L259.04,189.20 L259.37,189.20 L259.71,189.20 L260.04,189.20 L260.38,189.20 L260.71,189.20 L261.04,193.88 L261.38,202.13 L261.71,211.62 L262.05,221.36 L262.38,230.39 L262.71,237.71 L263.05,239.20" fill="none" stroke="#e8708c" stroke-width="0.90" stroke-linejoin="round"/>
<line x1="150.80" y1="239.20" x2="271.40" y2="239.20" stroke="#999" stroke-width="0.7"/>
<text x="469.00" y="170.20" font-family='"Liberation Serif", serif' font-size="10.80" font-weight="normal" fill="#111" text-anchor="start" textLength="27.00" lengthAdjust="spacingAndGlyphs" stroke="#111" stroke-width="0.26">I817V</text>
<text x="449.70" y="179.50" font-family='"Liberation Serif", serif' font-size="8.80" font-weight="normal" fill="#111" text-anchor="start" textLength="13.50" lengthAdjust="spacingAndGlyphs" stroke="#111" stroke-width="0.26">815</text>
<text x="473.30" y="179.50" font-family='"Liberation Serif", serif' font-size="8.80" font-weight="normal" fill="#111" text-anchor="start" textLength="13.40" lengthAdjust="spacingAndGlyphs" stroke="#111" stroke-width="0.26">816</text>
<text x="496.10" y="179.50" font-family='"Liberation Serif", serif' font-size="8.80" font-weight="normal" fill="#111" text-anchor="start" textLength="13.50" lengthAdjust="spacingAndGlyphs" stroke="#111" stroke-width="0.26">817</text>
<text x="450.40" y="186.90" font-family='"Liberation Serif", serif' font-size="6.60" font-weight="bold" stroke-width="0.22" textLength="16.10" lengthAdjust="spacingAndGlyphs"><tspan fill="#22a022" stroke="#22a022">A</tspan><tspan fill="#111" stroke="#111">G</tspan><tspan fill="#22a022" stroke="#22a022">A</tspan></text>
<text x="471.90" y="186.90" font-family='"Liberation Serif", serif' font-size="6.60" font-weight="bold" stroke-width="0.22" textLength="14.80" lengthAdjust="spacingAndGlyphs"><tspan fill="#111" stroke="#111">G</tspan><tspan fill="#22a022" stroke="#22a022">A</tspan><tspan fill="#2020b8" stroke="#2020b8">C</tspan></text>
<text x="490.80" y="186.90" font-family='"Liberation Serif", serif' font-size="6.60" font-weight="bold" stroke-width="0.22" textLength="21.50" lengthAdjust="spacingAndGlyphs"><tspan fill="#22a022" stroke="#22a022">A</tspan><tspan fill="#3a6a3a" stroke="#3a6a3a">/</tspan><tspan fill="#111" stroke="#111">G</tspan><tspan fill="#d01838" stroke="#d01838">T</tspan><tspan fill="#2020b8" stroke="#2020b8">C</tspan></text>
<path d="M447.00,239.50 L447.33,232.23 L447.67,222.82 L448.00,212.42 L448.33,202.20 L448.67,193.31 L449.00,188.50 L449.33,188.50 L449.67,188.50 L450.00,188.50 L450.33,188.50 L450.67,188.50 L451.00,188.50 L451.33,188.50 L451.67,188.50 L452.00,188.50 L452.33,188.50 L452.67,188.50 L453.00,188.50 L453.33,188.50 L453.67,188.50 L454.00,188.50 L454.33,189.10 L454.67,196.64 L455.00,206.20 L455.33,216.63 L455.67,226.76 L456.00,235.46 L456.33,239.50 M462.33,239.50 L462.67,236.00 L463.00,226.92 L463.33,216.22 L463.67,205.24 L464.00,195.35 L464.33,188.50 L464.67,188.50 L465.00,188.50 L465.33,188.50 L465.67,188.50 L466.00,188.50 L466.33,188.50 L466.67,188.50 L467.00,188.50 L467.33,188.50 L467.67,188.50 L468.00,188.50 L468.33,188.50 L468.67,188.50 L469.00,188.50 L469.33,189.13 L469.67,197.17 L470.00,207.39 L470.33,218.42 L470.67,228.91 L471.00,237.50 L471.33,239.50 M476.67,239.50 L477.00,237.37 L477.33,228.16 L477.67,216.93 L478.00,205.30 L478.33,194.88 L478.67,188.50 L479.00,188.50 L479.33,188.50 L479.67,188.50 L480.00,188.50 L480.33,188.50 L480.67,188.50 L481.00,188.50 L481.33,188.50 L481.67,188.50 L482.00,193.08 L482.33,203.07 L482.67,214.59 L483.00,226.03 L483.33,235.77 L483.67,239.50 M492.00,239.50 L492.33,230.59 L492.67,218.97 L493.00,206.58 L493.33,195.35 L493.67,188.50 L494.00,188.50 L494.33,188.50 L494.67,188.50 L495.00,188.50 L495.33,188.50 L495.67,188.50 L496.00,188.50 L496.33,188.50 L496.67,188.50 L497.00,188.50 L497.33,188.50 L497.67,188.50 L498.00,188.50 L498.33,188.50 L498.67,188.50 L499.00,193.41 L499.33,204.18 L499.67,216.49 L500.00,228.42 L500.33,238.03 L500.67,239.50 M515.00,239.50 L515.33,232.65 L515.67,223.82 L516.00,214.00 L516.33,204.18 L516.67,195.35 L517.00,188.50 L517.33,188.50 L517.67,188.50 L518.00,188.50" fill="none" stroke="#8fd87c" stroke-width="0.90" stroke-linejoin="round"/>
<path d="M454.67,239.50 L455.00,235.46 L455.33,226.76 L455.67,216.63 L456.00,206.20 L456.33,196.64 L456.67,189.10 L457.00,188.50 L457.33,188.50 L457.67,188.50 L458.00,188.50 L458.33,188.50 L458.67,188.50 L459.00,188.50 L459.33,188.50 L459.67,188.50 L460.00,188.50 L460.33,188.50 L460.67,188.50 L461.00,188.50 L461.33,188.50 L461.67,188.50 L462.00,188.50 L462.33,188.50 L462.67,191.80 L463.00,200.28 L463.33,210.33 L463.67,220.78 L464.00,230.48 L464.33,238.27 L464.67,239.50 M469.33,239.50 L469.67,236.00 L470.00,226.92 L470.33,216.22 L470.67,205.24 L471.00,195.35 L471.33,188.50 L471.67,188.50 L472.00,188.50 L472.33,188.50 L472.67,188.50 L473.00,188.50 L473.33,188.50 L473.67,188.50 L474.00,188.50 L474.33,188.50 L474.67,188.50 L475.00,188.50 L475.33,188.50 L475.67,188.50 L476.00,188.50 L476.33,189.13 L476.67,197.17 L477.00,207.39 L477.33,218.42 L477.67,228.91 L478.00,237.50 L478.33,239.50 M492.00,239.11 L492.33,238.84 L492.67,238.43 L493.00,237.82 L493.33,236.96 L493.67,235.79 L494.00,234.25 L494.33,232.33 L494.67,230.03 L495.00,227.42 L495.33,224.61 L495.67,221.76 L496.00,219.08 L496.33,216.79 L496.67,215.10 L497.00,214.16 L497.33,214.07 L497.67,214.84 L498.00,216.40 L498.33,218.59 L498.67,221.20 L499.00,224.03 L499.33,226.87 L499.67,229.53 L500.00,231.90 L500.33,233.90 L500.67,235.51 L501.00,236.75 L501.33,237.67 L501.67,238.33 L502.00,238.77 L502.33,239.06" fill="none" stroke="#3a3a3a" stroke-width="0.90" stroke-linejoin="round"/>
<path d="M447.00,188.50 L447.33,198.11 L447.67,210.66 L448.00,223.78 L448.33,235.10 L448.67,239.29 M449.00,239.11 L449.33,238.81 L449.67,238.39 L450.00,237.82 L450.33,237.16 L450.67,236.48 L451.00,235.90 L451.33,235.52 L451.67,235.43 L452.00,235.64 L452.33,236.11 L452.67,236.75 L453.00,237.43 L453.33,238.06 L453.67,238.57 L454.00,238.95 M484.33,239.50 L484.67,232.65 L485.00,221.42 L485.33,209.03 L485.67,197.41 L486.00,188.50 L486.33,188.50 L486.67,188.50 L487.00,188.50 L487.33,188.50 L487.67,188.50 L488.00,188.50 L488.33,188.50 L488.67,188.50 L489.00,188.50 L489.33,188.50 L489.67,188.50 L490.00,188.50 L490.33,188.50 L490.67,188.50 L491.00,193.41 L491.33,204.18 L491.67,216.49 L492.00,228.42 L492.33,238.03 L492.67,239.50 M500.00,239.05 L500.33,238.78 L500.67,238.41 L501.00,237.93 L501.33,237.34 L501.67,236.68 L502.00,236.00 L502.33,235.36 L502.67,234.83 L503.00,234.50 L503.33,234.40 L503.67,234.55 L504.00,234.93 L504.33,235.48 L504.67,236.13 L505.00,236.82 L505.33,237.47 L505.67,238.03 L506.00,238.49 L506.33,235.23 L506.67,223.41 L507.00,209.49 L507.33,196.37 L507.67,188.50 L508.00,188.50 L508.33,188.50 L508.67,188.50 L509.00,188.50 L509.33,188.50 L509.67,188.50 L510.00,188.50 L510.33,188.50 L510.67,188.50 L511.00,188.50 L511.33,188.50 L511.67,188.50 L512.00,188.50 L512.33,188.50 L512.67,188.50 L513.00,188.50 L513.33,188.50 L513.67,188.50 L514.00,188.50 L514.33,188.50 L514.67,188.50 L515.00,194.22 L515.33,206.93 L515.67,221.07 L516.00,233.78 L516.33,239.50" fill="none" stroke="#7070e0" stroke-width="0.90" stroke-linejoin="round"/>
<path d="M499.00,239.50 L499.33,230.59 L499.67,218.97 L500.00,206.58 L500.33,195.35 L500.67,188.50 L501.00,188.50 L501.33,188.50 L501.67,188.50 L502.00,188.50 L502.33,188.50 L502.67,188.50 L503.00,188.50 L503.33,188.50 L503.67,188.50 L504.00,188.50 L504.33,188.50 L504.67,188.50 L505.00,188.50 L505.33,188.50 L505.67,195.35 L506.00,206.58 L506.33,218.97 L506.67,230.59 L507.00,239.50" fill="none" stroke="#e8708c" stroke-width="0.90" stroke-linejoin="round"/>
<line x1="447.00" y1="239.50" x2="518.00" y2="239.50" stroke="#999" stroke-width="0.7"/>
<rect x="496.2" y="209.8" width="1.3" height="1.6" fill="#222"/>
<line x1="496.8" y1="204.5" x2="496.8" y2="208" stroke="#777" stroke-width="0.6"/>
</g>
</svg>
</body></html>
